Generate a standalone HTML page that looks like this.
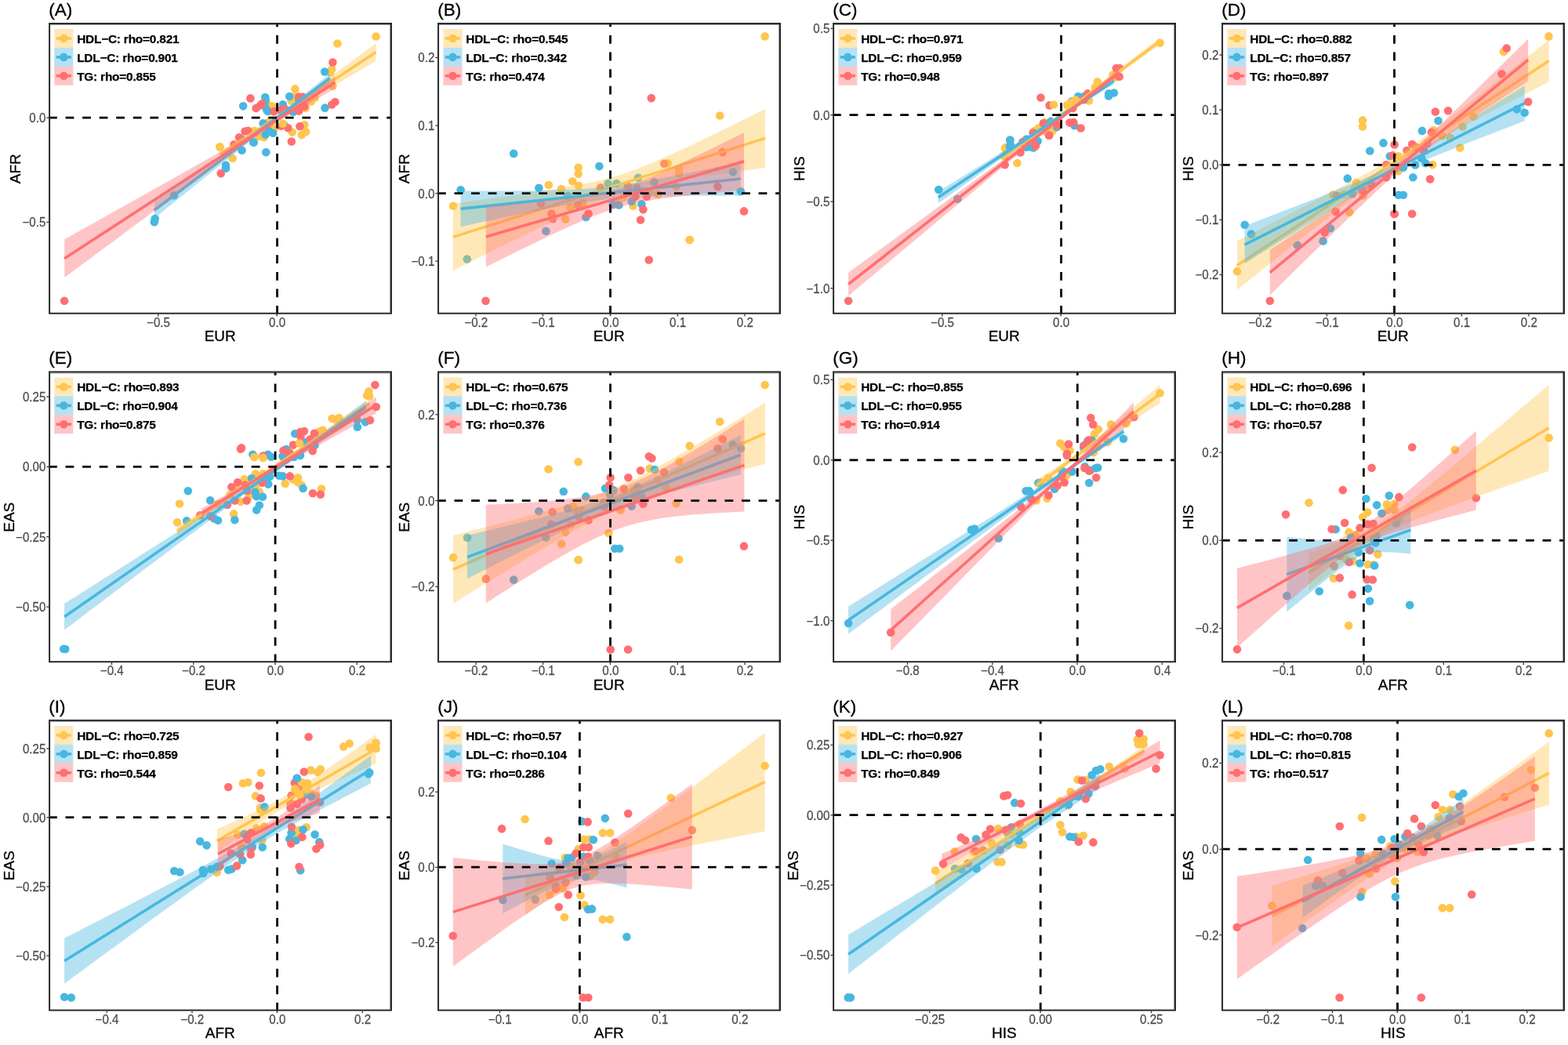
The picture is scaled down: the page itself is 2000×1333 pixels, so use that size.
<!DOCTYPE html>
<html lang="en"><head><meta charset="utf-8"><title>Cross-population effect size correlations</title>
<style>
html,body{margin:0;padding:0;background:#fff;}
body{width:2000px;height:1333px;overflow:hidden;}
svg{display:block;}
text{font-family:"Liberation Sans",sans-serif;}
.lg{font-size:15.4px;font-weight:bold;fill:#000;letter-spacing:-0.2px;stroke:#000;stroke-width:0.25px;}
.xt{font-size:15.15px;fill:#4d4d4d;stroke:#4d4d4d;stroke-width:0.25px;text-anchor:middle;}
.yt{font-size:15.15px;fill:#4d4d4d;stroke:#4d4d4d;stroke-width:0.25px;text-anchor:end;}
.at{font-size:19px;fill:#000;stroke:#000;stroke-width:0.3px;text-anchor:middle;}
.ti{font-size:22.6px;fill:#000;stroke:#000;stroke-width:0.3px;}
.fr{fill:none;stroke:#2b2b2b;stroke-width:2;}
.fs{stroke:#333;stroke-width:1;stroke-opacity:0.5;}
.tk{stroke:#333;stroke-width:1.3;}
.dl{stroke:#000;stroke-width:2.8;stroke-dasharray:10.78 10.78;}
</style></head><body>
<svg width="2000" height="1333" viewBox="0 0 2000 1333">
<rect width="2000" height="1333" fill="#fff"/>
<g class="panel" id="pA">
<clipPath id="clipA"><rect x="61.9" y="29" width="438.1" height="371.85"/></clipPath>
<g clip-path="url(#clipA)">
<circle cx="479.6" cy="46.44" r="5.3" fill="#FFC54E"/>
<circle cx="430.4" cy="55.44" r="5.3" fill="#FFC54E"/>
<circle cx="423.2" cy="88.2" r="5.3" fill="#FFC54E"/>
<circle cx="421.4" cy="92.4" r="5.3" fill="#FFC54E"/>
<circle cx="376.4" cy="113.4" r="5.3" fill="#FFC54E"/>
<circle cx="424.4" cy="109.8" r="5.3" fill="#FFC54E"/>
<circle cx="401.6" cy="124.8" r="5.3" fill="#FFC54E"/>
<circle cx="396.8" cy="129.6" r="5.3" fill="#FFC54E"/>
<circle cx="371.6" cy="128.4" r="5.3" fill="#FFC54E"/>
<circle cx="375.2" cy="123.6" r="5.3" fill="#FFC54E"/>
<circle cx="360.8" cy="135.6" r="5.3" fill="#FFC54E"/>
<circle cx="342.8" cy="134.4" r="5.3" fill="#FFC54E"/>
<circle cx="348.8" cy="139.2" r="5.3" fill="#FFC54E"/>
<circle cx="389.6" cy="138" r="5.3" fill="#FFC54E"/>
<circle cx="388.4" cy="159" r="5.3" fill="#FFC54E"/>
<circle cx="372.8" cy="168.6" r="5.3" fill="#FFC54E"/>
<circle cx="390.2" cy="168" r="5.3" fill="#FFC54E"/>
<circle cx="384.8" cy="172.2" r="5.3" fill="#FFC54E"/>
<circle cx="280.4" cy="187.2" r="5.3" fill="#FFC54E"/>
<circle cx="329.6" cy="174" r="5.3" fill="#FFC54E"/>
<circle cx="336.8" cy="175.2" r="5.3" fill="#FFC54E"/>
<circle cx="324.8" cy="166.8" r="5.3" fill="#FFC54E"/>
<circle cx="344" cy="160.8" r="5.3" fill="#FFC54E"/>
<circle cx="280.5" cy="187.8" r="5.3" fill="#FFC54E"/>
<circle cx="296.7" cy="202.05" r="5.3" fill="#FFC54E"/>
<circle cx="374" cy="125.5" r="5.3" fill="#FFC54E"/>
<circle cx="350" cy="163.75" r="5.3" fill="#FFC54E"/>
<circle cx="341.75" cy="156.25" r="5.3" fill="#FFC54E"/>
<circle cx="347" cy="135.25" r="5.3" fill="#FFC54E"/>
<circle cx="414.2" cy="91.44" r="5.3" fill="#47B7E0"/>
<circle cx="338.24" cy="123.96" r="5.3" fill="#47B7E0"/>
<circle cx="337.4" cy="133.2" r="5.3" fill="#47B7E0"/>
<circle cx="340.4" cy="140.4" r="5.3" fill="#47B7E0"/>
<circle cx="310.16" cy="135.36" r="5.3" fill="#47B7E0"/>
<circle cx="369.2" cy="123" r="5.3" fill="#47B7E0"/>
<circle cx="360.8" cy="133.2" r="5.3" fill="#47B7E0"/>
<circle cx="414.44" cy="137.64" r="5.3" fill="#47B7E0"/>
<circle cx="374" cy="142.8" r="5.3" fill="#47B7E0"/>
<circle cx="381.2" cy="127.2" r="5.3" fill="#47B7E0"/>
<circle cx="335.6" cy="157.2" r="5.3" fill="#47B7E0"/>
<circle cx="362" cy="159" r="5.3" fill="#47B7E0"/>
<circle cx="338.6" cy="171.6" r="5.3" fill="#47B7E0"/>
<circle cx="348.2" cy="169.8" r="5.3" fill="#47B7E0"/>
<circle cx="323.6" cy="181.8" r="5.3" fill="#47B7E0"/>
<circle cx="308" cy="177.6" r="5.3" fill="#47B7E0"/>
<circle cx="339.3" cy="194.25" r="5.3" fill="#47B7E0"/>
<circle cx="308.55" cy="191.7" r="5.3" fill="#47B7E0"/>
<circle cx="323.25" cy="181.5" r="5.3" fill="#47B7E0"/>
<circle cx="288" cy="210.75" r="5.3" fill="#47B7E0"/>
<circle cx="288" cy="214.8" r="5.3" fill="#47B7E0"/>
<circle cx="222" cy="249.3" r="5.3" fill="#47B7E0"/>
<circle cx="197.7" cy="279" r="5.3" fill="#47B7E0"/>
<circle cx="196.8" cy="283.2" r="5.3" fill="#47B7E0"/>
<circle cx="338.75" cy="127.38" r="5.3" fill="#47B7E0"/>
<circle cx="335.75" cy="134.13" r="5.3" fill="#47B7E0"/>
<circle cx="341.75" cy="142" r="5.3" fill="#47B7E0"/>
<circle cx="342.88" cy="167.13" r="5.3" fill="#47B7E0"/>
<circle cx="307.63" cy="177.63" r="5.3" fill="#47B7E0"/>
<circle cx="424.4" cy="79.44" r="5.3" fill="#FF6F71"/>
<circle cx="319.4" cy="125.4" r="5.3" fill="#FF6F71"/>
<circle cx="427.4" cy="129.96" r="5.3" fill="#FF6F71"/>
<circle cx="423.2" cy="133.44" r="5.3" fill="#FF6F71"/>
<circle cx="326.6" cy="138" r="5.3" fill="#FF6F71"/>
<circle cx="332" cy="134.4" r="5.3" fill="#FF6F71"/>
<circle cx="381.2" cy="123.6" r="5.3" fill="#FF6F71"/>
<circle cx="386" cy="123.6" r="5.3" fill="#FF6F71"/>
<circle cx="349.4" cy="142.2" r="5.3" fill="#FF6F71"/>
<circle cx="388.4" cy="135.6" r="5.3" fill="#FF6F71"/>
<circle cx="381.2" cy="141.6" r="5.3" fill="#FF6F71"/>
<circle cx="382.4" cy="161.16" r="5.3" fill="#FF6F71"/>
<circle cx="367.4" cy="163.2" r="5.3" fill="#FF6F71"/>
<circle cx="358.4" cy="160.8" r="5.3" fill="#FF6F71"/>
<circle cx="371.84" cy="180.6" r="5.3" fill="#FF6F71"/>
<circle cx="316.4" cy="166.8" r="5.3" fill="#FF6F71"/>
<circle cx="305" cy="175.2" r="5.3" fill="#FF6F71"/>
<circle cx="298.4" cy="184.2" r="5.3" fill="#FF6F71"/>
<circle cx="281.7" cy="221.25" r="5.3" fill="#FF6F71"/>
<circle cx="82.1" cy="383.8" r="5.3" fill="#FF6F71"/>
<circle cx="357.5" cy="140.5" r="5.3" fill="#FF6F71"/>
<circle cx="363.5" cy="139" r="5.3" fill="#FF6F71"/>
<circle cx="312.5" cy="167.5" r="5.3" fill="#FF6F71"/>
<circle cx="334.25" cy="132.25" r="5.3" fill="#FF6F71"/>
<circle cx="360.8" cy="157.8" r="5.3" fill="#FFC54E"/>
<polygon points="281,192.5 289.27,187.53 297.55,182.52 305.82,177.46 314.1,172.33 322.38,167.1 330.65,161.76 338.93,156.3 347.2,150.7 355.48,145 363.75,139.21 372.03,133.35 380.3,127.44 388.57,121.5 396.85,115.52 405.12,109.53 413.4,103.53 421.68,97.51 429.95,91.48 438.23,85.45 446.5,79.4 454.77,73.36 463.05,67.31 471.33,61.26 479.6,55.2 479.6,78 471.33,82.85 463.05,87.71 454.77,92.57 446.5,97.43 438.23,102.3 429.95,107.17 421.68,112.05 413.4,116.94 405.12,121.84 396.85,126.76 388.57,131.7 380.3,136.66 372.03,141.66 363.75,146.71 355.48,151.82 347.2,157.03 338.93,162.34 330.65,167.79 322.38,173.35 314.1,179.04 305.82,184.81 297.55,190.66 289.27,196.56 281,202.5" fill="#FFC54E" fill-opacity="0.4"/>
<line x1="281" y1="197.5" x2="479.6" y2="66.6" stroke="#FFC54E" stroke-width="3.6"/>
<polygon points="196.8,258.1 206.13,251.61 215.47,245.13 224.8,238.63 234.13,232.13 243.47,225.62 252.8,219.1 262.13,212.57 271.47,206.02 280.8,199.46 290.13,192.87 299.47,186.25 308.8,179.59 318.13,172.88 327.47,166.11 336.8,159.26 346.13,152.32 355.47,145.29 364.8,138.17 374.13,130.95 383.47,123.66 392.8,116.31 402.13,108.91 411.47,101.47 420.8,94 420.8,105.2 411.47,111.79 402.13,118.41 392.8,125.06 383.47,131.77 374.13,138.54 364.8,145.38 355.47,152.32 346.13,159.34 336.8,166.47 327.47,173.68 318.13,180.96 308.8,188.31 299.47,195.71 290.13,203.15 280.8,210.62 271.47,218.11 262.13,225.62 252.8,233.15 243.47,240.69 234.13,248.24 224.8,255.8 215.47,263.36 206.13,270.93 196.8,278.5" fill="#47B7E0" fill-opacity="0.4"/>
<line x1="196.8" y1="268.3" x2="420.8" y2="99.6" stroke="#47B7E0" stroke-width="3.6"/>
<polygon points="82.2,305.3 96.58,297.24 110.97,289.19 125.35,281.13 139.73,273.07 154.12,265.01 168.5,256.94 182.88,248.88 197.27,240.8 211.65,232.73 226.03,224.64 240.42,216.54 254.8,208.43 269.18,200.3 283.57,192.13 297.95,183.9 312.33,175.57 326.72,167.03 341.1,158.13 355.48,148.7 369.87,138.76 384.25,128.51 398.63,118.08 413.02,107.57 427.4,97 427.4,113 413.02,121.16 398.63,129.37 384.25,137.67 369.87,146.14 355.48,154.92 341.1,164.22 326.72,174.04 312.33,184.23 297.95,194.63 283.57,205.12 269.18,215.68 254.8,226.27 240.42,236.88 226.03,247.51 211.65,258.15 197.27,268.8 182.88,279.45 168.5,290.11 154.12,300.77 139.73,311.43 125.35,322.09 110.97,332.76 96.58,343.43 82.2,354.1" fill="#FF6F71" fill-opacity="0.4"/>
<line x1="82.2" y1="329.7" x2="427.4" y2="105" stroke="#FF6F71" stroke-width="3.6"/>
<line x1="62" y1="150.2" x2="499" y2="150.2" class="dl"/>
<line x1="353.55" y1="400.8" x2="353.55" y2="30" class="dl"/>
</g>
<rect x="69.3" y="37" width="24.1" height="23.95" fill="#FFC54E" fill-opacity="0.4"/>
<line x1="71.7" y1="49" x2="91" y2="49" stroke="#FFC54E" stroke-width="3.6"/>
<circle cx="81.35" cy="49" r="5.3" fill="#FFC54E"/>
<text x="98.15" y="54.85" class="lg">HDL−C: rho=0.821</text>
<rect x="69.3" y="60.9" width="24.1" height="23.95" fill="#47B7E0" fill-opacity="0.4"/>
<line x1="71.7" y1="72.9" x2="91" y2="72.9" stroke="#47B7E0" stroke-width="3.6"/>
<circle cx="81.35" cy="72.9" r="5.3" fill="#47B7E0"/>
<text x="98.15" y="78.75" class="lg">LDL−C: rho=0.901</text>
<rect x="69.3" y="84.8" width="24.1" height="23.95" fill="#FF6F71" fill-opacity="0.4"/>
<line x1="71.7" y1="96.8" x2="91" y2="96.8" stroke="#FF6F71" stroke-width="3.6"/>
<circle cx="81.35" cy="96.8" r="5.3" fill="#FF6F71"/>
<text x="98.15" y="102.65" class="lg">TG: rho=0.855</text>
<rect x="63.1" y="30" width="435.9" height="369.75" class="fr"/>
<line x1="64.1" y1="31.5" x2="498" y2="31.5" class="fs"/>
<line x1="497.5" y1="31" x2="497.5" y2="398.75" class="fs"/>
<line x1="201.75" y1="400.75" x2="201.75" y2="403.45" class="tk"/>
<text transform="translate(202.05,416.65) scale(1,1.03)" class="xt">−0.5</text>
<line x1="353.25" y1="400.75" x2="353.25" y2="403.45" class="tk"/>
<text transform="translate(353.55,416.65) scale(1,1.03)" class="xt">0.0</text>
<line x1="62.1" y1="150.2" x2="59.4" y2="150.2" class="tk"/>
<text transform="translate(58.4,156.1) scale(1,1.03)" class="yt">0.0</text>
<line x1="62.1" y1="283.4" x2="59.4" y2="283.4" class="tk"/>
<text transform="translate(58.4,289.3) scale(1,1.03)" class="yt">−0.5</text>
<text x="280.75" y="435.2" class="at">EUR</text>
<text transform="translate(26,215.28) rotate(-90)" class="at">AFR</text>
<text x="62.2" y="19.6" class="ti">(A)</text>
</g>
<g class="panel" id="pB">
<clipPath id="clipB"><rect x="557.85" y="29" width="438.15" height="371.85"/></clipPath>
<g clip-path="url(#clipB)">
<circle cx="578.04" cy="262.76" r="5.3" fill="#FFC54E"/>
<circle cx="699.84" cy="236" r="5.3" fill="#FFC54E"/>
<circle cx="716.04" cy="241.04" r="5.3" fill="#FFC54E"/>
<circle cx="730.2" cy="231.2" r="5.3" fill="#FFC54E"/>
<circle cx="737.64" cy="213.8" r="5.3" fill="#FFC54E"/>
<circle cx="737.64" cy="221.84" r="5.3" fill="#FFC54E"/>
<circle cx="738" cy="236.84" r="5.3" fill="#FFC54E"/>
<circle cx="743.16" cy="258.8" r="5.3" fill="#FFC54E"/>
<circle cx="727.44" cy="264.8" r="5.3" fill="#FFC54E"/>
<circle cx="721.2" cy="279.44" r="5.3" fill="#FFC54E"/>
<circle cx="851.8" cy="208.2" r="5.3" fill="#FFC54E"/>
<circle cx="866.2" cy="214.8" r="5.3" fill="#FFC54E"/>
<circle cx="866.2" cy="221.4" r="5.3" fill="#FFC54E"/>
<circle cx="862.6" cy="237.6" r="5.3" fill="#FFC54E"/>
<circle cx="839.2" cy="247.8" r="5.3" fill="#FFC54E"/>
<circle cx="807.4" cy="262.8" r="5.3" fill="#FFC54E"/>
<circle cx="879.76" cy="306" r="5.3" fill="#FFC54E"/>
<circle cx="829" cy="244.8" r="5.3" fill="#FFC54E"/>
<circle cx="785.2" cy="256.8" r="5.3" fill="#FFC54E"/>
<circle cx="794.8" cy="252" r="5.3" fill="#FFC54E"/>
<circle cx="975.63" cy="46.4" r="5.3" fill="#FFC54E"/>
<circle cx="918.22" cy="147.53" r="5.3" fill="#FFC54E"/>
<circle cx="879.51" cy="306.07" r="5.3" fill="#FFC54E"/>
<circle cx="587.64" cy="242.36" r="5.3" fill="#47B7E0"/>
<circle cx="655.2" cy="195.92" r="5.3" fill="#47B7E0"/>
<circle cx="687.36" cy="239.84" r="5.3" fill="#47B7E0"/>
<circle cx="764.4" cy="212.12" r="5.3" fill="#47B7E0"/>
<circle cx="696.36" cy="294.8" r="5.3" fill="#47B7E0"/>
<circle cx="747.36" cy="277.04" r="5.3" fill="#47B7E0"/>
<circle cx="724.2" cy="249.8" r="5.3" fill="#47B7E0"/>
<circle cx="814" cy="226.8" r="5.3" fill="#47B7E0"/>
<circle cx="775.6" cy="234" r="5.3" fill="#47B7E0"/>
<circle cx="786.4" cy="234" r="5.3" fill="#47B7E0"/>
<circle cx="834.4" cy="232.2" r="5.3" fill="#47B7E0"/>
<circle cx="812.2" cy="239.4" r="5.3" fill="#47B7E0"/>
<circle cx="934.96" cy="219.36" r="5.3" fill="#47B7E0"/>
<circle cx="944.8" cy="244.2" r="5.3" fill="#47B7E0"/>
<circle cx="818.44" cy="260.4" r="5.3" fill="#47B7E0"/>
<circle cx="805.6" cy="256.8" r="5.3" fill="#47B7E0"/>
<circle cx="789.4" cy="261.6" r="5.3" fill="#47B7E0"/>
<circle cx="781.6" cy="261" r="5.3" fill="#47B7E0"/>
<circle cx="595.79" cy="330.44" r="5.3" fill="#47B7E0"/>
<circle cx="690" cy="259.4" r="5.3" fill="#FF6F71"/>
<circle cx="703.44" cy="272.6" r="5.3" fill="#FF6F71"/>
<circle cx="705" cy="279.2" r="5.3" fill="#FF6F71"/>
<circle cx="750.6" cy="272.6" r="5.3" fill="#FF6F71"/>
<circle cx="737.4" cy="261.8" r="5.3" fill="#FF6F71"/>
<circle cx="847.24" cy="208.8" r="5.3" fill="#FF6F71"/>
<circle cx="921.64" cy="194.16" r="5.3" fill="#FF6F71"/>
<circle cx="915.4" cy="237.96" r="5.3" fill="#FF6F71"/>
<circle cx="824.8" cy="250.8" r="5.3" fill="#FF6F71"/>
<circle cx="810.4" cy="250.8" r="5.3" fill="#FF6F71"/>
<circle cx="820.36" cy="267.36" r="5.3" fill="#FF6F71"/>
<circle cx="817" cy="280.56" r="5.3" fill="#FF6F71"/>
<circle cx="949" cy="269.4" r="5.3" fill="#FF6F71"/>
<circle cx="800.8" cy="237.6" r="5.3" fill="#FF6F71"/>
<circle cx="766" cy="239.4" r="5.3" fill="#FF6F71"/>
<circle cx="830.77" cy="125.17" r="5.3" fill="#FF6F71"/>
<circle cx="827.77" cy="331.44" r="5.3" fill="#FF6F71"/>
<circle cx="619.49" cy="383.85" r="5.3" fill="#FF6F71"/>
<polygon points="577.8,259.4 594.39,257.21 610.98,255 627.57,252.76 644.17,250.49 660.76,248.16 677.35,245.76 693.94,243.27 710.53,240.65 727.12,237.83 743.72,234.73 760.31,231.2 776.9,227.06 793.49,222.15 810.08,216.39 826.67,209.9 843.27,202.83 859.86,195.37 876.45,187.64 893.04,179.73 909.63,171.7 926.22,163.58 942.82,155.4 959.41,147.17 976,138.9 976,213.9 959.41,216.13 942.82,218.4 926.22,220.72 909.63,223.1 893.04,225.57 876.45,228.16 859.86,230.93 843.27,233.97 826.67,237.4 810.08,241.41 793.49,246.15 776.9,251.74 760.31,258.1 743.72,265.07 727.12,272.47 710.53,280.15 693.94,288.03 677.35,296.04 660.76,304.14 644.17,312.31 627.57,320.54 610.98,328.8 594.39,337.09 577.8,345.4" fill="#FFC54E" fill-opacity="0.4"/>
<line x1="577.8" y1="302.4" x2="976" y2="176.4" stroke="#FFC54E" stroke-width="3.6"/>
<polygon points="587.6,243.6 602.48,243.61 617.37,243.59 632.25,243.56 647.13,243.48 662.02,243.37 676.9,243.2 691.78,242.95 706.67,242.6 721.55,242.11 736.43,241.41 751.32,240.46 766.2,239.17 781.08,237.53 795.97,235.52 810.85,233.2 825.73,230.64 840.62,227.9 855.5,225.02 870.38,222.04 885.27,219 900.15,215.9 915.03,212.76 929.92,209.59 944.8,206.4 944.8,249.6 929.92,249.61 915.03,249.64 900.15,249.7 885.27,249.8 870.38,249.96 855.5,250.18 840.62,250.5 825.73,250.96 810.85,251.6 795.97,252.48 781.08,253.67 766.2,255.23 751.32,257.14 736.43,259.39 721.55,261.89 706.67,264.6 691.78,267.45 676.9,270.4 662.02,273.43 647.13,276.52 632.25,279.64 617.37,282.81 602.48,285.99 587.6,289.2" fill="#47B7E0" fill-opacity="0.4"/>
<line x1="587.6" y1="266.4" x2="944.8" y2="228" stroke="#47B7E0" stroke-width="3.6"/>
<polygon points="619.8,263.5 633.52,262.3 647.23,261.07 660.95,259.8 674.67,258.49 688.38,257.11 702.1,255.65 715.82,254.08 729.53,252.34 743.25,250.37 756.97,248.06 770.68,245.27 784.4,241.86 798.12,237.73 811.83,232.91 825.55,227.51 839.27,221.68 852.98,215.55 866.7,209.21 880.42,202.73 894.13,196.14 907.85,189.48 921.57,182.76 935.28,176 949,169.2 949,242.4 935.28,243.62 921.57,244.88 907.85,246.17 894.13,247.53 880.42,248.95 866.7,250.49 852.98,252.16 839.27,254.05 825.55,256.24 811.83,258.86 798.12,262.05 784.4,265.94 770.68,270.55 756.97,275.78 743.25,281.48 729.53,287.52 715.82,293.8 702.1,300.25 688.38,306.81 674.67,313.45 660.95,320.15 647.23,326.9 633.52,333.69 619.8,340.5" fill="#FF6F71" fill-opacity="0.4"/>
<line x1="619.8" y1="302" x2="949" y2="205.8" stroke="#FF6F71" stroke-width="3.6"/>
<line x1="557.95" y1="246.7" x2="995" y2="246.7" class="dl"/>
<line x1="778.5" y1="400.8" x2="778.5" y2="30" class="dl"/>
</g>
<rect x="565.4" y="37" width="24.1" height="23.95" fill="#FFC54E" fill-opacity="0.4"/>
<line x1="567.8" y1="49" x2="587.1" y2="49" stroke="#FFC54E" stroke-width="3.6"/>
<circle cx="577.45" cy="49" r="5.3" fill="#FFC54E"/>
<text x="594.25" y="54.85" class="lg">HDL−C: rho=0.545</text>
<rect x="565.4" y="60.9" width="24.1" height="23.95" fill="#47B7E0" fill-opacity="0.4"/>
<line x1="567.8" y1="72.9" x2="587.1" y2="72.9" stroke="#47B7E0" stroke-width="3.6"/>
<circle cx="577.45" cy="72.9" r="5.3" fill="#47B7E0"/>
<text x="594.25" y="78.75" class="lg">LDL−C: rho=0.342</text>
<rect x="565.4" y="84.8" width="24.1" height="23.95" fill="#FF6F71" fill-opacity="0.4"/>
<line x1="567.8" y1="96.8" x2="587.1" y2="96.8" stroke="#FF6F71" stroke-width="3.6"/>
<circle cx="577.45" cy="96.8" r="5.3" fill="#FF6F71"/>
<text x="594.25" y="102.65" class="lg">TG: rho=0.474</text>
<rect x="559.05" y="30" width="435.95" height="369.75" class="fr"/>
<line x1="560.05" y1="31.5" x2="994" y2="31.5" class="fs"/>
<line x1="993.5" y1="31" x2="993.5" y2="398.75" class="fs"/>
<line x1="607" y1="400.75" x2="607" y2="403.45" class="tk"/>
<text transform="translate(607.3,416.65) scale(1,1.03)" class="xt">−0.2</text>
<line x1="692.5" y1="400.75" x2="692.5" y2="403.45" class="tk"/>
<text transform="translate(692.8,416.65) scale(1,1.03)" class="xt">−0.1</text>
<line x1="778.5" y1="400.75" x2="778.5" y2="403.45" class="tk"/>
<text transform="translate(778.8,416.65) scale(1,1.03)" class="xt">0.0</text>
<line x1="864.25" y1="400.75" x2="864.25" y2="403.45" class="tk"/>
<text transform="translate(864.55,416.65) scale(1,1.03)" class="xt">0.1</text>
<line x1="950" y1="400.75" x2="950" y2="403.45" class="tk"/>
<text transform="translate(950.3,416.65) scale(1,1.03)" class="xt">0.2</text>
<line x1="558.05" y1="73.4" x2="555.35" y2="73.4" class="tk"/>
<text transform="translate(554.35,79.3) scale(1,1.03)" class="yt">0.2</text>
<line x1="558.05" y1="160.2" x2="555.35" y2="160.2" class="tk"/>
<text transform="translate(554.35,166.1) scale(1,1.03)" class="yt">0.1</text>
<line x1="558.05" y1="246.7" x2="555.35" y2="246.7" class="tk"/>
<text transform="translate(554.35,252.6) scale(1,1.03)" class="yt">0.0</text>
<line x1="558.05" y1="333.1" x2="555.35" y2="333.1" class="tk"/>
<text transform="translate(554.35,339) scale(1,1.03)" class="yt">−0.1</text>
<text x="776.73" y="435.2" class="at">EUR</text>
<text transform="translate(521.7,215.28) rotate(-90)" class="at">AFR</text>
<text x="558.15" y="19.6" class="ti">(B)</text>
</g>
<g class="panel" id="pC">
<clipPath id="clipC"><rect x="1061.9" y="29" width="438.1" height="371.85"/></clipPath>
<g clip-path="url(#clipC)">
<circle cx="1479.6" cy="54.84" r="5.3" fill="#FFC54E"/>
<circle cx="1399.8" cy="104.4" r="5.3" fill="#FFC54E"/>
<circle cx="1396.8" cy="111.6" r="5.3" fill="#FFC54E"/>
<circle cx="1419.6" cy="95.4" r="5.3" fill="#FFC54E"/>
<circle cx="1423.2" cy="98.4" r="5.3" fill="#FFC54E"/>
<circle cx="1389" cy="128.4" r="5.3" fill="#FFC54E"/>
<circle cx="1362" cy="134.4" r="5.3" fill="#FFC54E"/>
<circle cx="1371.6" cy="128.4" r="5.3" fill="#FFC54E"/>
<circle cx="1368.6" cy="138" r="5.3" fill="#FFC54E"/>
<circle cx="1380" cy="126" r="5.3" fill="#FFC54E"/>
<circle cx="1332.6" cy="156" r="5.3" fill="#FFC54E"/>
<circle cx="1324.8" cy="163.2" r="5.3" fill="#FFC54E"/>
<circle cx="1320" cy="166.8" r="5.3" fill="#FFC54E"/>
<circle cx="1334.4" cy="168" r="5.3" fill="#FFC54E"/>
<circle cx="1282.2" cy="188.4" r="5.3" fill="#FFC54E"/>
<circle cx="1342.8" cy="166.8" r="5.3" fill="#FFC54E"/>
<circle cx="1282" cy="189.25" r="5.3" fill="#FFC54E"/>
<circle cx="1280.5" cy="199" r="5.3" fill="#FFC54E"/>
<circle cx="1297.45" cy="208" r="5.3" fill="#FFC54E"/>
<circle cx="1322.5" cy="166" r="5.3" fill="#FFC54E"/>
<circle cx="1414.2" cy="119.4" r="5.3" fill="#47B7E0"/>
<circle cx="1420.8" cy="118.44" r="5.3" fill="#47B7E0"/>
<circle cx="1375.2" cy="123" r="5.3" fill="#47B7E0"/>
<circle cx="1381.2" cy="123.6" r="5.3" fill="#47B7E0"/>
<circle cx="1366.8" cy="129.6" r="5.3" fill="#47B7E0"/>
<circle cx="1340.4" cy="154.8" r="5.3" fill="#47B7E0"/>
<circle cx="1336.8" cy="158.4" r="5.3" fill="#47B7E0"/>
<circle cx="1348.2" cy="162" r="5.3" fill="#47B7E0"/>
<circle cx="1370.4" cy="160.2" r="5.3" fill="#47B7E0"/>
<circle cx="1288.44" cy="178.44" r="5.3" fill="#47B7E0"/>
<circle cx="1309.2" cy="177.6" r="5.3" fill="#47B7E0"/>
<circle cx="1323.6" cy="180" r="5.3" fill="#47B7E0"/>
<circle cx="1288.8" cy="184.8" r="5.3" fill="#47B7E0"/>
<circle cx="1312.8" cy="187.2" r="5.3" fill="#47B7E0"/>
<circle cx="1197.25" cy="242.05" r="5.3" fill="#47B7E0"/>
<circle cx="1221.25" cy="253.75" r="5.3" fill="#47B7E0"/>
<circle cx="1288.3" cy="179.05" r="5.3" fill="#47B7E0"/>
<circle cx="1288" cy="187" r="5.3" fill="#47B7E0"/>
<circle cx="1309.75" cy="178" r="5.3" fill="#47B7E0"/>
<circle cx="1309" cy="187.75" r="5.3" fill="#47B7E0"/>
<circle cx="1318" cy="188.5" r="5.3" fill="#47B7E0"/>
<circle cx="1323.25" cy="180.25" r="5.3" fill="#47B7E0"/>
<circle cx="1414.13" cy="122.38" r="5.3" fill="#47B7E0"/>
<circle cx="1423.8" cy="87" r="5.3" fill="#FF6F71"/>
<circle cx="1428" cy="87" r="5.3" fill="#FF6F71"/>
<circle cx="1427.76" cy="97.8" r="5.3" fill="#FF6F71"/>
<circle cx="1327.44" cy="124.44" r="5.3" fill="#FF6F71"/>
<circle cx="1338.6" cy="134.4" r="5.3" fill="#FF6F71"/>
<circle cx="1387.2" cy="119.4" r="5.3" fill="#FF6F71"/>
<circle cx="1382.4" cy="127.2" r="5.3" fill="#FF6F71"/>
<circle cx="1368" cy="138" r="5.3" fill="#FF6F71"/>
<circle cx="1364.4" cy="156.6" r="5.3" fill="#FF6F71"/>
<circle cx="1369.2" cy="156" r="5.3" fill="#FF6F71"/>
<circle cx="1378.56" cy="163.56" r="5.3" fill="#FF6F71"/>
<circle cx="1348.8" cy="159.6" r="5.3" fill="#FF6F71"/>
<circle cx="1330.8" cy="157.2" r="5.3" fill="#FF6F71"/>
<circle cx="1338" cy="172.8" r="5.3" fill="#FF6F71"/>
<circle cx="1320" cy="184.8" r="5.3" fill="#FF6F71"/>
<circle cx="1317.6" cy="169.2" r="5.3" fill="#FF6F71"/>
<circle cx="1304.4" cy="182.4" r="5.3" fill="#FF6F71"/>
<circle cx="1281.7" cy="210.25" r="5.3" fill="#FF6F71"/>
<circle cx="1301.5" cy="194.5" r="5.3" fill="#FF6F71"/>
<circle cx="1321" cy="186.25" r="5.3" fill="#FF6F71"/>
<circle cx="1338.25" cy="172.75" r="5.3" fill="#FF6F71"/>
<circle cx="1304.5" cy="181" r="5.3" fill="#FF6F71"/>
<circle cx="1082.1" cy="383.8" r="5.3" fill="#FF6F71"/>
<circle cx="1344" cy="133.44" r="5.3" fill="#FFC54E"/>
<circle cx="1361.25" cy="134" r="5.3" fill="#FFC54E"/>
<circle cx="1365.75" cy="131" r="5.3" fill="#FFC54E"/>
<circle cx="1371.75" cy="127.25" r="5.3" fill="#FFC54E"/>
<polygon points="1281,196.3 1289.28,190.41 1297.55,184.51 1305.83,178.6 1314.1,172.68 1322.38,166.75 1330.65,160.79 1338.92,154.82 1347.2,148.81 1355.47,142.77 1363.75,136.69 1372.02,130.56 1380.3,124.38 1388.58,118.15 1396.85,111.89 1405.12,105.58 1413.4,99.25 1421.67,92.89 1429.95,86.51 1438.22,80.11 1446.5,73.71 1454.77,67.29 1463.05,60.87 1471.32,54.44 1479.6,48 1479.6,57 1471.32,62.88 1463.05,68.77 1454.77,74.66 1446.5,80.56 1438.22,86.47 1429.95,92.39 1421.67,98.33 1413.4,104.29 1405.12,110.27 1396.85,116.28 1388.58,122.33 1380.3,128.42 1372.02,134.56 1363.75,140.75 1355.47,146.98 1347.2,153.25 1338.92,159.57 1330.65,165.91 1322.38,172.27 1314.1,178.65 1305.83,185.05 1297.55,191.46 1289.28,197.87 1281,204.3" fill="#FFC54E" fill-opacity="0.4"/>
<line x1="1281" y1="200.3" x2="1479.6" y2="52.5" stroke="#FFC54E" stroke-width="3.6"/>
<polygon points="1196.8,244.3 1206.13,238.54 1215.47,232.77 1224.8,227 1234.13,221.23 1243.47,215.46 1252.8,209.67 1262.13,203.89 1271.47,198.09 1280.8,192.29 1290.13,186.46 1299.47,180.62 1308.8,174.75 1318.13,168.85 1327.47,162.88 1336.8,156.85 1346.13,150.73 1355.47,144.51 1364.8,138.2 1374.13,131.81 1383.47,125.35 1392.8,118.85 1402.13,112.32 1411.47,105.77 1420.8,99.2 1420.8,107.2 1411.47,113.01 1402.13,118.84 1392.8,124.7 1383.47,130.58 1374.13,136.51 1364.8,142.5 1355.47,148.57 1346.13,154.74 1336.8,161 1327.47,167.35 1318.13,173.77 1308.8,180.25 1299.47,186.76 1290.13,193.3 1280.8,199.86 1271.47,206.44 1262.13,213.03 1252.8,219.63 1243.47,226.23 1234.13,232.84 1224.8,239.45 1215.47,246.06 1206.13,252.68 1196.8,259.3" fill="#47B7E0" fill-opacity="0.4"/>
<line x1="1196.8" y1="251.8" x2="1420.8" y2="103.2" stroke="#47B7E0" stroke-width="3.6"/>
<polygon points="1082.1,347.7 1096.49,337.22 1110.88,326.74 1125.26,316.26 1139.65,305.78 1154.04,295.29 1168.42,284.8 1182.81,274.31 1197.2,263.82 1211.59,253.31 1225.97,242.8 1240.36,232.28 1254.75,221.74 1269.14,211.19 1283.53,200.6 1297.91,189.96 1312.3,179.25 1326.69,168.41 1341.08,157.39 1355.46,146.14 1369.85,134.65 1384.24,122.98 1398.62,111.19 1413.01,99.32 1427.4,87.4 1427.4,97.4 1413.01,107.99 1398.62,118.63 1384.24,129.34 1369.85,140.18 1355.46,151.2 1341.08,162.46 1326.69,173.95 1312.3,185.62 1297.91,197.41 1283.53,209.29 1269.14,221.2 1254.75,233.16 1240.36,245.13 1225.97,257.11 1211.59,269.11 1197.2,281.12 1182.81,293.13 1168.42,305.15 1154.04,317.16 1139.65,329.19 1125.26,341.21 1110.88,353.24 1096.49,365.27 1082.1,377.3" fill="#FF6F71" fill-opacity="0.4"/>
<line x1="1082.1" y1="362.5" x2="1427.4" y2="92.4" stroke="#FF6F71" stroke-width="3.6"/>
<line x1="1062" y1="146.6" x2="1499" y2="146.6" class="dl"/>
<line x1="1353.55" y1="400.8" x2="1353.55" y2="30" class="dl"/>
</g>
<rect x="1069.3" y="37" width="24.1" height="23.95" fill="#FFC54E" fill-opacity="0.4"/>
<line x1="1071.7" y1="49" x2="1091" y2="49" stroke="#FFC54E" stroke-width="3.6"/>
<circle cx="1081.35" cy="49" r="5.3" fill="#FFC54E"/>
<text x="1098.15" y="54.85" class="lg">HDL−C: rho=0.971</text>
<rect x="1069.3" y="60.9" width="24.1" height="23.95" fill="#47B7E0" fill-opacity="0.4"/>
<line x1="1071.7" y1="72.9" x2="1091" y2="72.9" stroke="#47B7E0" stroke-width="3.6"/>
<circle cx="1081.35" cy="72.9" r="5.3" fill="#47B7E0"/>
<text x="1098.15" y="78.75" class="lg">LDL−C: rho=0.959</text>
<rect x="1069.3" y="84.8" width="24.1" height="23.95" fill="#FF6F71" fill-opacity="0.4"/>
<line x1="1071.7" y1="96.8" x2="1091" y2="96.8" stroke="#FF6F71" stroke-width="3.6"/>
<circle cx="1081.35" cy="96.8" r="5.3" fill="#FF6F71"/>
<text x="1098.15" y="102.65" class="lg">TG: rho=0.948</text>
<rect x="1063.1" y="30" width="435.9" height="369.75" class="fr"/>
<line x1="1064.1" y1="31.5" x2="1498" y2="31.5" class="fs"/>
<line x1="1497.5" y1="31" x2="1497.5" y2="398.75" class="fs"/>
<line x1="1201.75" y1="400.75" x2="1201.75" y2="403.45" class="tk"/>
<text transform="translate(1202.05,416.65) scale(1,1.03)" class="xt">−0.5</text>
<line x1="1353.25" y1="400.75" x2="1353.25" y2="403.45" class="tk"/>
<text transform="translate(1353.55,416.65) scale(1,1.03)" class="xt">0.0</text>
<line x1="1062.1" y1="36.4" x2="1059.4" y2="36.4" class="tk"/>
<text transform="translate(1058.4,42.3) scale(1,1.03)" class="yt">0.5</text>
<line x1="1062.1" y1="146.7" x2="1059.4" y2="146.7" class="tk"/>
<text transform="translate(1058.4,152.6) scale(1,1.03)" class="yt">0.0</text>
<line x1="1062.1" y1="257.2" x2="1059.4" y2="257.2" class="tk"/>
<text transform="translate(1058.4,263.1) scale(1,1.03)" class="yt">−0.5</text>
<line x1="1062.1" y1="367.7" x2="1059.4" y2="367.7" class="tk"/>
<text transform="translate(1058.4,373.6) scale(1,1.03)" class="yt">−1.0</text>
<text x="1280.75" y="435.2" class="at">EUR</text>
<text transform="translate(1026,215.28) rotate(-90)" class="at">HIS</text>
<text x="1062.2" y="19.6" class="ti">(C)</text>
</g>
<g class="panel" id="pD">
<clipPath id="clipD"><rect x="1557.85" y="29" width="438.15" height="371.85"/></clipPath>
<g clip-path="url(#clipD)">
<circle cx="1578.04" cy="346.16" r="5.3" fill="#FFC54E"/>
<circle cx="1721.2" cy="270.8" r="5.3" fill="#FFC54E"/>
<circle cx="1738.6" cy="249.8" r="5.3" fill="#FFC54E"/>
<circle cx="1700.2" cy="248.6" r="5.3" fill="#FFC54E"/>
<circle cx="1714.6" cy="248" r="5.3" fill="#FFC54E"/>
<circle cx="1727.8" cy="240.2" r="5.3" fill="#FFC54E"/>
<circle cx="1730.2" cy="233" r="5.3" fill="#FFC54E"/>
<circle cx="1742.2" cy="242" r="5.3" fill="#FFC54E"/>
<circle cx="1737.97" cy="153.4" r="5.3" fill="#FFC54E"/>
<circle cx="1737.97" cy="161.5" r="5.3" fill="#FFC54E"/>
<circle cx="1828.6" cy="166" r="5.3" fill="#FFC54E"/>
<circle cx="1862.35" cy="188.5" r="5.3" fill="#FFC54E"/>
<circle cx="1827.25" cy="210.1" r="5.3" fill="#FFC54E"/>
<circle cx="1839.4" cy="173.2" r="5.3" fill="#FFC54E"/>
<circle cx="1849.75" cy="175.9" r="5.3" fill="#FFC54E"/>
<circle cx="1865.5" cy="161.5" r="5.3" fill="#FFC54E"/>
<circle cx="1783.6" cy="199.3" r="5.3" fill="#FFC54E"/>
<circle cx="1783.6" cy="218.2" r="5.3" fill="#FFC54E"/>
<circle cx="1975.43" cy="46.38" r="5.3" fill="#FFC54E"/>
<circle cx="1917.92" cy="66" r="5.3" fill="#FFC54E"/>
<circle cx="1879.4" cy="148.8" r="5.3" fill="#FFC54E"/>
<circle cx="1587.64" cy="286.76" r="5.3" fill="#47B7E0"/>
<circle cx="1596.04" cy="298.64" r="5.3" fill="#47B7E0"/>
<circle cx="1654.84" cy="312.8" r="5.3" fill="#47B7E0"/>
<circle cx="1687.6" cy="307.4" r="5.3" fill="#47B7E0"/>
<circle cx="1696.96" cy="291.2" r="5.3" fill="#47B7E0"/>
<circle cx="1724.8" cy="247.4" r="5.3" fill="#47B7E0"/>
<circle cx="1834.45" cy="154.12" r="5.3" fill="#47B7E0"/>
<circle cx="1813.93" cy="166.9" r="5.3" fill="#47B7E0"/>
<circle cx="1764.43" cy="182.38" r="5.3" fill="#47B7E0"/>
<circle cx="1747.33" cy="192.55" r="5.3" fill="#47B7E0"/>
<circle cx="1805.2" cy="210.55" r="5.3" fill="#47B7E0"/>
<circle cx="1818.25" cy="208.3" r="5.3" fill="#47B7E0"/>
<circle cx="1813.3" cy="202" r="5.3" fill="#47B7E0"/>
<circle cx="1802.32" cy="226.3" r="5.3" fill="#47B7E0"/>
<circle cx="1718.8" cy="227.65" r="5.3" fill="#47B7E0"/>
<circle cx="1772.8" cy="199.3" r="5.3" fill="#47B7E0"/>
<circle cx="1783.6" cy="248.8" r="5.3" fill="#47B7E0"/>
<circle cx="1789.9" cy="248.8" r="5.3" fill="#47B7E0"/>
<circle cx="1789.9" cy="213.7" r="5.3" fill="#47B7E0"/>
<circle cx="1934.75" cy="139.35" r="5.3" fill="#47B7E0"/>
<circle cx="1944.65" cy="143.85" r="5.3" fill="#47B7E0"/>
<circle cx="1619.8" cy="383.84" r="5.3" fill="#FF6F71"/>
<circle cx="1689.64" cy="296.6" r="5.3" fill="#FF6F71"/>
<circle cx="1703.44" cy="269.84" r="5.3" fill="#FF6F71"/>
<circle cx="1778.44" cy="272.84" r="5.3" fill="#FF6F71"/>
<circle cx="1705" cy="249.8" r="5.3" fill="#FF6F71"/>
<circle cx="1737.4" cy="242.6" r="5.3" fill="#FF6F71"/>
<circle cx="1749.4" cy="236" r="5.3" fill="#FF6F71"/>
<circle cx="1830.85" cy="142.6" r="5.3" fill="#FF6F71"/>
<circle cx="1847.05" cy="141.25" r="5.3" fill="#FF6F71"/>
<circle cx="1778.65" cy="184.45" r="5.3" fill="#FF6F71"/>
<circle cx="1801.15" cy="184" r="5.3" fill="#FF6F71"/>
<circle cx="1794.4" cy="192.1" r="5.3" fill="#FF6F71"/>
<circle cx="1776.4" cy="198.4" r="5.3" fill="#FF6F71"/>
<circle cx="1768.3" cy="210.1" r="5.3" fill="#FF6F71"/>
<circle cx="1824.1" cy="228.55" r="5.3" fill="#FF6F71"/>
<circle cx="1825.9" cy="168.7" r="5.3" fill="#FF6F71"/>
<circle cx="1806.1" cy="187.6" r="5.3" fill="#FF6F71"/>
<circle cx="1820.5" cy="183.1" r="5.3" fill="#FF6F71"/>
<circle cx="1768.3" cy="226.3" r="5.3" fill="#FF6F71"/>
<circle cx="1816" cy="192.1" r="5.3" fill="#FF6F71"/>
<circle cx="1921.7" cy="61.5" r="5.3" fill="#FF6F71"/>
<circle cx="1915.4" cy="94.35" r="5.3" fill="#FF6F71"/>
<circle cx="1949.15" cy="129.9" r="5.3" fill="#FF6F71"/>
<circle cx="1778.7" cy="273" r="5.3" fill="#FF6F71"/>
<circle cx="1801.1" cy="272.7" r="5.3" fill="#FF6F71"/>
<polygon points="1578,307.6 1594.57,299.02 1611.14,290.44 1627.71,281.84 1644.28,273.23 1660.85,264.61 1677.42,255.95 1694,247.26 1710.57,238.5 1727.14,229.66 1743.71,220.66 1760.28,211.4 1776.85,201.66 1793.42,191.17 1809.99,179.79 1826.56,167.69 1843.13,155.16 1859.7,142.37 1876.28,129.44 1892.85,116.42 1909.42,103.35 1925.99,90.25 1942.56,77.12 1959.13,63.96 1975.7,50.8 1975.7,104.2 1959.13,112.79 1942.56,121.4 1925.99,130.03 1909.42,138.68 1892.85,147.37 1876.28,156.11 1859.7,164.94 1843.13,173.91 1826.56,183.13 1809.99,192.79 1793.42,203.17 1776.85,214.44 1760.28,226.46 1743.71,238.95 1727.14,251.71 1710.57,264.63 1694,277.64 1677.42,290.7 1660.85,303.8 1644.28,316.93 1627.71,330.08 1611.14,343.24 1594.57,356.42 1578,369.6" fill="#FFC54E" fill-opacity="0.4"/>
<line x1="1578" y1="338.6" x2="1975.7" y2="77.5" stroke="#FFC54E" stroke-width="3.6"/>
<polygon points="1587.6,288.2 1602.48,282.49 1617.36,276.77 1632.24,271.03 1647.12,265.28 1662,259.5 1676.88,253.68 1691.75,247.8 1706.63,241.85 1721.51,235.77 1736.39,229.51 1751.27,222.93 1766.15,215.91 1781.03,208.32 1795.91,200.19 1810.79,191.64 1825.67,182.81 1840.55,173.81 1855.42,164.7 1870.3,155.52 1885.18,146.29 1900.06,137.02 1914.94,127.73 1929.82,118.42 1944.7,109.1 1944.7,154.3 1929.82,160.02 1914.94,165.75 1900.06,171.5 1885.18,177.28 1870.3,183.09 1855.42,188.95 1840.55,194.88 1825.67,200.92 1810.79,207.14 1795.91,213.63 1781.03,220.54 1766.15,227.99 1751.27,236.01 1736.39,244.48 1721.51,253.25 1706.63,262.22 1691.75,271.31 1676.88,280.47 1662,289.7 1647.12,298.96 1632.24,308.24 1617.36,317.55 1602.48,326.87 1587.6,336.2" fill="#47B7E0" fill-opacity="0.4"/>
<line x1="1587.6" y1="312.2" x2="1944.7" y2="131.7" stroke="#47B7E0" stroke-width="3.6"/>
<polygon points="1619.8,318.8 1633.52,309.72 1647.25,300.62 1660.97,291.52 1674.7,282.39 1688.42,273.25 1702.15,264.07 1715.88,254.84 1729.6,245.53 1743.33,236.11 1757.05,226.49 1770.78,216.5 1784.5,205.93 1798.22,194.55 1811.95,182.39 1825.67,169.69 1839.4,156.67 1853.12,143.47 1866.85,130.15 1880.58,116.77 1894.3,103.34 1908.03,89.89 1921.75,76.4 1935.48,62.91 1949.2,49.4 1949.2,103.4 1935.48,112.49 1921.75,121.6 1908.03,130.71 1894.3,139.86 1880.58,149.03 1866.85,158.25 1853.12,167.53 1839.4,176.93 1825.67,186.51 1811.95,196.41 1798.22,206.85 1784.5,218.07 1770.78,230.1 1757.05,242.71 1743.33,255.69 1729.6,268.87 1715.88,282.16 1702.15,295.53 1688.42,308.95 1674.7,322.41 1660.97,335.88 1647.25,349.38 1633.52,362.88 1619.8,376.4" fill="#FF6F71" fill-opacity="0.4"/>
<line x1="1619.8" y1="347.6" x2="1949.2" y2="76.4" stroke="#FF6F71" stroke-width="3.6"/>
<line x1="1557.95" y1="210.3" x2="1995" y2="210.3" class="dl"/>
<line x1="1778.5" y1="400.8" x2="1778.5" y2="30" class="dl"/>
</g>
<rect x="1565.4" y="37" width="24.1" height="23.95" fill="#FFC54E" fill-opacity="0.4"/>
<line x1="1567.8" y1="49" x2="1587.1" y2="49" stroke="#FFC54E" stroke-width="3.6"/>
<circle cx="1577.45" cy="49" r="5.3" fill="#FFC54E"/>
<text x="1594.25" y="54.85" class="lg">HDL−C: rho=0.882</text>
<rect x="1565.4" y="60.9" width="24.1" height="23.95" fill="#47B7E0" fill-opacity="0.4"/>
<line x1="1567.8" y1="72.9" x2="1587.1" y2="72.9" stroke="#47B7E0" stroke-width="3.6"/>
<circle cx="1577.45" cy="72.9" r="5.3" fill="#47B7E0"/>
<text x="1594.25" y="78.75" class="lg">LDL−C: rho=0.857</text>
<rect x="1565.4" y="84.8" width="24.1" height="23.95" fill="#FF6F71" fill-opacity="0.4"/>
<line x1="1567.8" y1="96.8" x2="1587.1" y2="96.8" stroke="#FF6F71" stroke-width="3.6"/>
<circle cx="1577.45" cy="96.8" r="5.3" fill="#FF6F71"/>
<text x="1594.25" y="102.65" class="lg">TG: rho=0.897</text>
<rect x="1559.05" y="30" width="435.95" height="369.75" class="fr"/>
<line x1="1560.05" y1="31.5" x2="1994" y2="31.5" class="fs"/>
<line x1="1993.5" y1="31" x2="1993.5" y2="398.75" class="fs"/>
<line x1="1607" y1="400.75" x2="1607" y2="403.45" class="tk"/>
<text transform="translate(1607.3,416.65) scale(1,1.03)" class="xt">−0.2</text>
<line x1="1692.5" y1="400.75" x2="1692.5" y2="403.45" class="tk"/>
<text transform="translate(1692.8,416.65) scale(1,1.03)" class="xt">−0.1</text>
<line x1="1778.5" y1="400.75" x2="1778.5" y2="403.45" class="tk"/>
<text transform="translate(1778.8,416.65) scale(1,1.03)" class="xt">0.0</text>
<line x1="1864.25" y1="400.75" x2="1864.25" y2="403.45" class="tk"/>
<text transform="translate(1864.55,416.65) scale(1,1.03)" class="xt">0.1</text>
<line x1="1950" y1="400.75" x2="1950" y2="403.45" class="tk"/>
<text transform="translate(1950.3,416.65) scale(1,1.03)" class="xt">0.2</text>
<line x1="1558.05" y1="70.1" x2="1555.35" y2="70.1" class="tk"/>
<text transform="translate(1554.35,76) scale(1,1.03)" class="yt">0.2</text>
<line x1="1558.05" y1="140.2" x2="1555.35" y2="140.2" class="tk"/>
<text transform="translate(1554.35,146.1) scale(1,1.03)" class="yt">0.1</text>
<line x1="1558.05" y1="210.3" x2="1555.35" y2="210.3" class="tk"/>
<text transform="translate(1554.35,216.2) scale(1,1.03)" class="yt">0.0</text>
<line x1="1558.05" y1="280.4" x2="1555.35" y2="280.4" class="tk"/>
<text transform="translate(1554.35,286.3) scale(1,1.03)" class="yt">−0.1</text>
<line x1="1558.05" y1="350.5" x2="1555.35" y2="350.5" class="tk"/>
<text transform="translate(1554.35,356.4) scale(1,1.03)" class="yt">−0.2</text>
<text x="1776.73" y="435.2" class="at">EUR</text>
<text transform="translate(1521.7,215.28) rotate(-90)" class="at">HIS</text>
<text x="1558.15" y="19.6" class="ti">(D)</text>
</g>
<g class="panel" id="pE">
<clipPath id="clipE"><rect x="61.9" y="473.45" width="438.1" height="371.85"/></clipPath>
<g clip-path="url(#clipE)">
<circle cx="470.48" cy="499.2" r="5.3" fill="#FFC54E"/>
<circle cx="468.05" cy="504.6" r="5.3" fill="#FFC54E"/>
<circle cx="471.2" cy="505.5" r="5.3" fill="#FFC54E"/>
<circle cx="423.5" cy="533.85" r="5.3" fill="#FFC54E"/>
<circle cx="432.5" cy="532.95" r="5.3" fill="#FFC54E"/>
<circle cx="428" cy="535.2" r="5.3" fill="#FFC54E"/>
<circle cx="407.3" cy="550.5" r="5.3" fill="#FFC54E"/>
<circle cx="411.8" cy="548.7" r="5.3" fill="#FFC54E"/>
<circle cx="382.1" cy="564.9" r="5.3" fill="#FFC54E"/>
<circle cx="404.6" cy="558.6" r="5.3" fill="#FFC54E"/>
<circle cx="369.5" cy="576.6" r="5.3" fill="#FFC54E"/>
<circle cx="361.4" cy="583.8" r="5.3" fill="#FFC54E"/>
<circle cx="324.8" cy="582.8" r="5.3" fill="#FFC54E"/>
<circle cx="335.6" cy="584" r="5.3" fill="#FFC54E"/>
<circle cx="229.04" cy="642.56" r="5.3" fill="#FFC54E"/>
<circle cx="226.04" cy="666.2" r="5.3" fill="#FFC54E"/>
<circle cx="298.16" cy="655.64" r="5.3" fill="#FFC54E"/>
<circle cx="311.6" cy="611.6" r="5.3" fill="#FFC54E"/>
<circle cx="320" cy="610.4" r="5.3" fill="#FFC54E"/>
<circle cx="326" cy="604.4" r="5.3" fill="#FFC54E"/>
<circle cx="302" cy="621.2" r="5.3" fill="#FFC54E"/>
<circle cx="293.6" cy="630.8" r="5.3" fill="#FFC54E"/>
<circle cx="306.8" cy="639.8" r="5.3" fill="#FFC54E"/>
<circle cx="317.6" cy="633.2" r="5.3" fill="#FFC54E"/>
<circle cx="363.8" cy="617" r="5.3" fill="#FFC54E"/>
<circle cx="374" cy="611.6" r="5.3" fill="#FFC54E"/>
<circle cx="380" cy="609.2" r="5.3" fill="#FFC54E"/>
<circle cx="380" cy="615.2" r="5.3" fill="#FFC54E"/>
<circle cx="410" cy="623.6" r="5.3" fill="#FFC54E"/>
<circle cx="384.8" cy="618.8" r="5.3" fill="#FFC54E"/>
<circle cx="332" cy="608" r="5.3" fill="#FFC54E"/>
<circle cx="335.6" cy="604.4" r="5.3" fill="#FFC54E"/>
<circle cx="326" cy="622.4" r="5.3" fill="#FFC54E"/>
<circle cx="330.8" cy="627.2" r="5.3" fill="#FFC54E"/>
<circle cx="278" cy="642.8" r="5.3" fill="#FFC54E"/>
<circle cx="455.72" cy="536.1" r="5.3" fill="#47B7E0"/>
<circle cx="455.9" cy="544.65" r="5.3" fill="#47B7E0"/>
<circle cx="465.98" cy="538.35" r="5.3" fill="#47B7E0"/>
<circle cx="376.25" cy="553.2" r="5.3" fill="#47B7E0"/>
<circle cx="389.3" cy="564" r="5.3" fill="#47B7E0"/>
<circle cx="401.45" cy="568.05" r="5.3" fill="#47B7E0"/>
<circle cx="365" cy="573" r="5.3" fill="#47B7E0"/>
<circle cx="360.5" cy="582" r="5.3" fill="#47B7E0"/>
<circle cx="383" cy="581.1" r="5.3" fill="#47B7E0"/>
<circle cx="374.9" cy="582.9" r="5.3" fill="#47B7E0"/>
<circle cx="239.84" cy="626.24" r="5.3" fill="#47B7E0"/>
<circle cx="268.16" cy="638.24" r="5.3" fill="#47B7E0"/>
<circle cx="238.16" cy="664.4" r="5.3" fill="#47B7E0"/>
<circle cx="273.2" cy="661.4" r="5.3" fill="#47B7E0"/>
<circle cx="278" cy="663.8" r="5.3" fill="#47B7E0"/>
<circle cx="299.36" cy="663.2" r="5.3" fill="#47B7E0"/>
<circle cx="327.2" cy="650.6" r="5.3" fill="#47B7E0"/>
<circle cx="330.8" cy="644.6" r="5.3" fill="#47B7E0"/>
<circle cx="325.4" cy="627.8" r="5.3" fill="#47B7E0"/>
<circle cx="327.2" cy="633.2" r="5.3" fill="#47B7E0"/>
<circle cx="335" cy="633.8" r="5.3" fill="#47B7E0"/>
<circle cx="321.2" cy="610.4" r="5.3" fill="#47B7E0"/>
<circle cx="342.2" cy="617.6" r="5.3" fill="#47B7E0"/>
<circle cx="344" cy="608" r="5.3" fill="#47B7E0"/>
<circle cx="356" cy="606.8" r="5.3" fill="#47B7E0"/>
<circle cx="360.8" cy="607.4" r="5.3" fill="#47B7E0"/>
<circle cx="386.6" cy="623" r="5.3" fill="#47B7E0"/>
<circle cx="322.4" cy="579.8" r="5.3" fill="#47B7E0"/>
<circle cx="341.6" cy="579.8" r="5.3" fill="#47B7E0"/>
<circle cx="345.8" cy="582.8" r="5.3" fill="#47B7E0"/>
<circle cx="338" cy="611.6" r="5.3" fill="#47B7E0"/>
<circle cx="81.2" cy="827.8" r="5.3" fill="#47B7E0"/>
<circle cx="83.3" cy="828" r="5.3" fill="#47B7E0"/>
<circle cx="478.4" cy="491.1" r="5.3" fill="#FF6F71"/>
<circle cx="479.75" cy="519" r="5.3" fill="#FF6F71"/>
<circle cx="472.1" cy="536.1" r="5.3" fill="#FF6F71"/>
<circle cx="383" cy="550.95" r="5.3" fill="#FF6F71"/>
<circle cx="387.95" cy="550.05" r="5.3" fill="#FF6F71"/>
<circle cx="401" cy="552.75" r="5.3" fill="#FF6F71"/>
<circle cx="383.45" cy="556.8" r="5.3" fill="#FF6F71"/>
<circle cx="395.6" cy="560.4" r="5.3" fill="#FF6F71"/>
<circle cx="374" cy="567.6" r="5.3" fill="#FF6F71"/>
<circle cx="398.75" cy="575.25" r="5.3" fill="#FF6F71"/>
<circle cx="361.4" cy="574.8" r="5.3" fill="#FF6F71"/>
<circle cx="369.5" cy="578.4" r="5.3" fill="#FF6F71"/>
<circle cx="308" cy="571.4" r="5.3" fill="#FF6F71"/>
<circle cx="295.4" cy="621.2" r="5.3" fill="#FF6F71"/>
<circle cx="303.2" cy="615.2" r="5.3" fill="#FF6F71"/>
<circle cx="312.8" cy="618.8" r="5.3" fill="#FF6F71"/>
<circle cx="315.2" cy="626" r="5.3" fill="#FF6F71"/>
<circle cx="314.6" cy="638.6" r="5.3" fill="#FF6F71"/>
<circle cx="299.6" cy="638.6" r="5.3" fill="#FF6F71"/>
<circle cx="290" cy="644" r="5.3" fill="#FF6F71"/>
<circle cx="369.8" cy="607.4" r="5.3" fill="#FF6F71"/>
<circle cx="398.96" cy="629.24" r="5.3" fill="#FF6F71"/>
<circle cx="408.8" cy="630.8" r="5.3" fill="#FF6F71"/>
<circle cx="334.4" cy="615.8" r="5.3" fill="#FF6F71"/>
<circle cx="335.6" cy="581.6" r="5.3" fill="#FF6F71"/>
<circle cx="255.2" cy="657.2" r="5.3" fill="#FF6F71"/>
<circle cx="268.4" cy="658.4" r="5.3" fill="#FF6F71"/>
<circle cx="307" cy="572.63" r="5.3" fill="#FF6F71"/>
<circle cx="324.25" cy="583.13" r="5.3" fill="#FFC54E"/>
<circle cx="335.5" cy="583.88" r="5.3" fill="#FFC54E"/>
<circle cx="382" cy="565.5" r="5.3" fill="#FFC54E"/>
<polygon points="225.8,671.6 236.03,665.23 246.25,658.86 256.48,652.48 266.7,646.09 276.93,639.68 287.15,633.25 297.38,626.8 307.6,620.31 317.82,613.78 328.05,607.19 338.27,600.53 348.5,593.8 358.73,586.98 368.95,580.09 379.17,573.13 389.4,566.11 399.62,559.05 409.85,551.95 420.07,544.83 430.3,537.69 440.52,530.53 450.75,523.36 460.98,516.18 471.2,509 471.2,521 460.98,527.37 450.75,533.74 440.52,540.12 430.3,546.51 420.07,552.92 409.85,559.35 399.62,565.8 389.4,572.29 379.17,578.82 368.95,585.41 358.73,592.07 348.5,598.8 338.27,605.62 328.05,612.51 317.82,619.47 307.6,626.49 297.38,633.55 287.15,640.65 276.93,647.77 266.7,654.91 256.48,662.07 246.25,669.24 236.03,676.42 225.8,683.6" fill="#FFC54E" fill-opacity="0.4"/>
<line x1="225.8" y1="677.6" x2="471.2" y2="515" stroke="#FFC54E" stroke-width="3.6"/>
<polygon points="82.1,770.1 98.12,759.93 114.15,749.76 130.18,739.58 146.2,729.41 162.22,719.22 178.25,709.04 194.28,698.84 210.3,688.64 226.32,678.42 242.35,668.19 258.38,657.93 274.4,647.64 290.43,637.28 306.45,626.84 322.48,616.25 338.5,605.42 354.52,594.29 370.55,582.84 386.58,571.16 402.6,559.32 418.62,547.38 434.65,535.39 450.68,523.36 466.7,511.3 466.7,527.3 450.68,537.53 434.65,547.79 418.62,558.09 402.6,568.45 386.58,578.9 370.55,589.51 354.52,600.36 338.5,611.51 322.48,622.98 306.45,634.68 290.43,646.52 274.4,658.46 258.38,670.46 242.35,682.49 226.32,694.55 210.3,706.63 194.28,718.72 178.25,730.81 162.22,742.92 146.2,755.03 130.18,767.14 114.15,779.26 98.12,791.38 82.1,803.5" fill="#47B7E0" fill-opacity="0.4"/>
<line x1="82.1" y1="786.8" x2="466.7" y2="519.3" stroke="#47B7E0" stroke-width="3.6"/>
<polygon points="257,648.8 266.28,643.59 275.57,638.36 284.85,633.1 294.13,627.8 303.42,622.43 312.7,617 321.98,611.46 331.27,605.8 340.55,600 349.83,594.08 359.12,588.05 368.4,581.94 377.68,575.76 386.97,569.53 396.25,563.27 405.53,556.99 414.82,550.69 424.1,544.37 433.38,538.04 442.67,531.7 451.95,525.36 461.23,519.01 470.52,512.66 479.8,506.3 479.8,527.3 470.52,532.44 461.23,537.59 451.95,542.74 442.67,547.9 433.38,553.06 424.1,558.23 414.82,563.41 405.53,568.61 396.25,573.83 386.97,579.07 377.68,584.34 368.4,589.66 359.12,595.05 349.83,600.52 340.55,606.1 331.27,611.8 321.98,617.64 312.7,623.6 303.42,629.67 294.13,635.8 284.85,642 275.57,648.24 266.28,654.51 257,660.8" fill="#FF6F71" fill-opacity="0.4"/>
<line x1="257" y1="654.8" x2="479.8" y2="516.8" stroke="#FF6F71" stroke-width="3.6"/>
<line x1="62" y1="595.3" x2="499" y2="595.3" class="dl"/>
<line x1="351.1" y1="845.25" x2="351.1" y2="474.45" class="dl"/>
</g>
<rect x="69.3" y="481.45" width="24.1" height="23.95" fill="#FFC54E" fill-opacity="0.4"/>
<line x1="71.7" y1="493.45" x2="91" y2="493.45" stroke="#FFC54E" stroke-width="3.6"/>
<circle cx="81.35" cy="493.45" r="5.3" fill="#FFC54E"/>
<text x="98.15" y="499.3" class="lg">HDL−C: rho=0.893</text>
<rect x="69.3" y="505.35" width="24.1" height="23.95" fill="#47B7E0" fill-opacity="0.4"/>
<line x1="71.7" y1="517.35" x2="91" y2="517.35" stroke="#47B7E0" stroke-width="3.6"/>
<circle cx="81.35" cy="517.35" r="5.3" fill="#47B7E0"/>
<text x="98.15" y="523.2" class="lg">LDL−C: rho=0.904</text>
<rect x="69.3" y="529.25" width="24.1" height="23.95" fill="#FF6F71" fill-opacity="0.4"/>
<line x1="71.7" y1="541.25" x2="91" y2="541.25" stroke="#FF6F71" stroke-width="3.6"/>
<circle cx="81.35" cy="541.25" r="5.3" fill="#FF6F71"/>
<text x="98.15" y="547.1" class="lg">TG: rho=0.875</text>
<rect x="63.1" y="474.45" width="435.9" height="369.75" class="fr"/>
<line x1="64.1" y1="475.95" x2="498" y2="475.95" class="fs"/>
<line x1="497.5" y1="475.45" x2="497.5" y2="843.2" class="fs"/>
<line x1="142.5" y1="845.2" x2="142.5" y2="847.9" class="tk"/>
<text transform="translate(142.8,861.1) scale(1,1.03)" class="xt">−0.4</text>
<line x1="246.75" y1="845.2" x2="246.75" y2="847.9" class="tk"/>
<text transform="translate(247.05,861.1) scale(1,1.03)" class="xt">−0.2</text>
<line x1="351" y1="845.2" x2="351" y2="847.9" class="tk"/>
<text transform="translate(351.3,861.1) scale(1,1.03)" class="xt">0.0</text>
<line x1="455.25" y1="845.2" x2="455.25" y2="847.9" class="tk"/>
<text transform="translate(455.55,861.1) scale(1,1.03)" class="xt">0.2</text>
<line x1="62.1" y1="506.1" x2="59.4" y2="506.1" class="tk"/>
<text transform="translate(58.4,512) scale(1,1.03)" class="yt">0.25</text>
<line x1="62.1" y1="595.4" x2="59.4" y2="595.4" class="tk"/>
<text transform="translate(58.4,601.3) scale(1,1.03)" class="yt">0.00</text>
<line x1="62.1" y1="684.7" x2="59.4" y2="684.7" class="tk"/>
<text transform="translate(58.4,690.6) scale(1,1.03)" class="yt">−0.25</text>
<line x1="62.1" y1="774.1" x2="59.4" y2="774.1" class="tk"/>
<text transform="translate(58.4,780) scale(1,1.03)" class="yt">−0.50</text>
<text x="280.75" y="879.65" class="at">EUR</text>
<text transform="translate(18.4,659.73) rotate(-90)" class="at">EAS</text>
<text x="62.2" y="464.05" class="ti">(E)</text>
</g>
<g class="panel" id="pF">
<clipPath id="clipF"><rect x="557.85" y="473.45" width="438.15" height="371.85"/></clipPath>
<g clip-path="url(#clipF)">
<circle cx="578.04" cy="711.16" r="5.3" fill="#FFC54E"/>
<circle cx="737.76" cy="714.16" r="5.3" fill="#FFC54E"/>
<circle cx="776.4" cy="679.96" r="5.3" fill="#FFC54E"/>
<circle cx="716.16" cy="693.64" r="5.3" fill="#FFC54E"/>
<circle cx="721.2" cy="679" r="5.3" fill="#FFC54E"/>
<circle cx="730.8" cy="646" r="5.3" fill="#FFC54E"/>
<circle cx="727.8" cy="669.4" r="5.3" fill="#FFC54E"/>
<circle cx="741" cy="650.8" r="5.3" fill="#FFC54E"/>
<circle cx="735" cy="650.8" r="5.3" fill="#FFC54E"/>
<circle cx="791.4" cy="650.8" r="5.3" fill="#FFC54E"/>
<circle cx="918.16" cy="537.92" r="5.3" fill="#FFC54E"/>
<circle cx="879.64" cy="568.76" r="5.3" fill="#FFC54E"/>
<circle cx="866.2" cy="588.8" r="5.3" fill="#FFC54E"/>
<circle cx="828.76" cy="597.44" r="5.3" fill="#FFC54E"/>
<circle cx="839.2" cy="612.2" r="5.3" fill="#FFC54E"/>
<circle cx="850" cy="621.8" r="5.3" fill="#FFC54E"/>
<circle cx="862.6" cy="642.2" r="5.3" fill="#FFC54E"/>
<circle cx="791.8" cy="650" r="5.3" fill="#FFC54E"/>
<circle cx="808" cy="624.8" r="5.3" fill="#FFC54E"/>
<circle cx="975.63" cy="491.06" r="5.3" fill="#FFC54E"/>
<circle cx="737.65" cy="589.19" r="5.3" fill="#FFC54E"/>
<circle cx="699.6" cy="598.54" r="5.3" fill="#FFC54E"/>
<circle cx="737.65" cy="714.03" r="5.3" fill="#FFC54E"/>
<circle cx="866.15" cy="713.69" r="5.3" fill="#FFC54E"/>
<circle cx="718.8" cy="627.04" r="5.3" fill="#47B7E0"/>
<circle cx="747.36" cy="633.4" r="5.3" fill="#47B7E0"/>
<circle cx="596.04" cy="685.84" r="5.3" fill="#47B7E0"/>
<circle cx="687.36" cy="652.36" r="5.3" fill="#47B7E0"/>
<circle cx="696.36" cy="685.84" r="5.3" fill="#47B7E0"/>
<circle cx="655.2" cy="739.6" r="5.3" fill="#47B7E0"/>
<circle cx="724.2" cy="648.64" r="5.3" fill="#47B7E0"/>
<circle cx="784.2" cy="699.76" r="5.3" fill="#47B7E0"/>
<circle cx="790.2" cy="699.76" r="5.3" fill="#47B7E0"/>
<circle cx="835" cy="599" r="5.3" fill="#47B7E0"/>
<circle cx="934.84" cy="567.56" r="5.3" fill="#47B7E0"/>
<circle cx="945.04" cy="572" r="5.3" fill="#47B7E0"/>
<circle cx="772" cy="623" r="5.3" fill="#47B7E0"/>
<circle cx="782.8" cy="625.4" r="5.3" fill="#47B7E0"/>
<circle cx="778" cy="630.8" r="5.3" fill="#47B7E0"/>
<circle cx="813.4" cy="621.2" r="5.3" fill="#47B7E0"/>
<circle cx="818.2" cy="633.2" r="5.3" fill="#47B7E0"/>
<circle cx="805.6" cy="645.8" r="5.3" fill="#47B7E0"/>
<circle cx="619.8" cy="738.4" r="5.3" fill="#FF6F71"/>
<circle cx="704.64" cy="653.2" r="5.3" fill="#FF6F71"/>
<circle cx="703.2" cy="668.8" r="5.3" fill="#FF6F71"/>
<circle cx="750.6" cy="663.4" r="5.3" fill="#FF6F71"/>
<circle cx="738.6" cy="659.2" r="5.3" fill="#FF6F71"/>
<circle cx="769.8" cy="641.2" r="5.3" fill="#FF6F71"/>
<circle cx="827.8" cy="582.2" r="5.3" fill="#FF6F71"/>
<circle cx="831.4" cy="584.6" r="5.3" fill="#FF6F71"/>
<circle cx="817" cy="600.2" r="5.3" fill="#FF6F71"/>
<circle cx="801.4" cy="609.2" r="5.3" fill="#FF6F71"/>
<circle cx="778.6" cy="609.2" r="5.3" fill="#FF6F71"/>
<circle cx="777.16" cy="618.8" r="5.3" fill="#FF6F71"/>
<circle cx="847" cy="602.6" r="5.3" fill="#FF6F71"/>
<circle cx="921.76" cy="560.36" r="5.3" fill="#FF6F71"/>
<circle cx="915.4" cy="572" r="5.3" fill="#FF6F71"/>
<circle cx="795.64" cy="623.6" r="5.3" fill="#FF6F71"/>
<circle cx="820.36" cy="642.8" r="5.3" fill="#FF6F71"/>
<circle cx="809.8" cy="635.6" r="5.3" fill="#FF6F71"/>
<circle cx="770.8" cy="646.4" r="5.3" fill="#FF6F71"/>
<circle cx="778.7" cy="828.51" r="5.3" fill="#FF6F71"/>
<circle cx="801.07" cy="828.51" r="5.3" fill="#FF6F71"/>
<circle cx="948.93" cy="696.67" r="5.3" fill="#FF6F71"/>
<polygon points="578,682.9 594.58,678.71 611.17,674.5 627.75,670.24 644.33,665.93 660.92,661.56 677.5,657.1 694.08,652.52 710.67,647.78 727.25,642.8 743.83,637.5 760.42,631.75 777,625.4 793.58,618.34 810.17,610.55 826.75,602.11 843.33,593.14 859.92,583.8 876.5,574.17 893.08,564.36 909.67,554.41 926.25,544.35 942.83,534.22 959.42,524.03 976,513.8 976,591.8 959.42,596.03 942.83,600.31 926.25,604.65 909.67,609.06 893.08,613.57 876.5,618.23 859.92,623.07 843.33,628.19 826.75,633.69 810.17,639.71 793.58,646.39 777,653.8 760.42,661.92 743.83,670.63 727.25,679.8 710.67,689.29 694.08,699.01 677.5,708.9 660.92,718.91 644.33,729 627.75,739.16 611.17,749.37 594.58,759.62 578,769.9" fill="#FFC54E" fill-opacity="0.4"/>
<line x1="578" y1="726.4" x2="976" y2="552.8" stroke="#FFC54E" stroke-width="3.6"/>
<polygon points="596,683 610.53,679.52 625.07,676.01 639.6,672.48 654.13,668.92 668.67,665.31 683.2,661.64 697.73,657.9 712.27,654.04 726.8,650.02 741.33,645.79 755.87,641.25 770.4,636.32 784.93,630.93 799.47,625.07 814,618.81 828.53,612.22 843.07,605.41 857.6,598.42 872.13,591.32 886.67,584.13 901.2,576.89 915.73,569.59 930.27,562.26 944.8,554.9 944.8,605.5 930.27,609.01 915.73,612.54 901.2,616.11 886.67,619.73 872.13,623.41 857.6,627.18 843.07,631.06 828.53,635.11 814,639.39 799.47,644 784.93,649.01 770.4,654.48 755.87,660.42 741.33,666.75 726.8,673.38 712.27,680.23 697.73,687.24 683.2,694.36 668.67,701.56 654.13,708.81 639.6,716.12 625.07,723.45 610.53,730.82 596,738.2" fill="#47B7E0" fill-opacity="0.4"/>
<line x1="596" y1="710.6" x2="944.8" y2="580.2" stroke="#47B7E0" stroke-width="3.6"/>
<polygon points="619.8,643.8 633.53,643.24 647.27,642.6 661,641.88 674.73,641.05 688.47,640.08 702.2,638.92 715.93,637.53 729.67,635.83 743.4,633.73 757.13,631.13 770.87,627.9 784.6,623.92 798.33,619.15 812.07,613.59 825.8,607.3 839.53,600.39 853.27,593 867,585.21 880.73,577.14 894.47,568.83 908.2,560.35 921.93,551.73 935.67,543.01 949.4,534.2 949.4,652.6 935.67,653.22 921.93,653.93 908.2,654.75 894.47,655.7 880.73,656.83 867,658.19 853.27,659.84 839.53,661.87 825.8,664.4 812.07,667.55 798.33,671.41 784.6,676.08 770.87,681.54 757.13,687.74 743.4,694.57 729.67,701.9 715.93,709.64 702.2,717.68 688.47,725.96 674.73,734.42 661,743.02 647.27,751.73 633.53,760.53 619.8,769.4" fill="#FF6F71" fill-opacity="0.4"/>
<line x1="619.8" y1="706.6" x2="949.4" y2="593.4" stroke="#FF6F71" stroke-width="3.6"/>
<line x1="557.95" y1="638.7" x2="995" y2="638.7" class="dl"/>
<line x1="778.5" y1="845.25" x2="778.5" y2="474.45" class="dl"/>
</g>
<rect x="565.4" y="481.45" width="24.1" height="23.95" fill="#FFC54E" fill-opacity="0.4"/>
<line x1="567.8" y1="493.45" x2="587.1" y2="493.45" stroke="#FFC54E" stroke-width="3.6"/>
<circle cx="577.45" cy="493.45" r="5.3" fill="#FFC54E"/>
<text x="594.25" y="499.3" class="lg">HDL−C: rho=0.675</text>
<rect x="565.4" y="505.35" width="24.1" height="23.95" fill="#47B7E0" fill-opacity="0.4"/>
<line x1="567.8" y1="517.35" x2="587.1" y2="517.35" stroke="#47B7E0" stroke-width="3.6"/>
<circle cx="577.45" cy="517.35" r="5.3" fill="#47B7E0"/>
<text x="594.25" y="523.2" class="lg">LDL−C: rho=0.736</text>
<rect x="565.4" y="529.25" width="24.1" height="23.95" fill="#FF6F71" fill-opacity="0.4"/>
<line x1="567.8" y1="541.25" x2="587.1" y2="541.25" stroke="#FF6F71" stroke-width="3.6"/>
<circle cx="577.45" cy="541.25" r="5.3" fill="#FF6F71"/>
<text x="594.25" y="547.1" class="lg">TG: rho=0.376</text>
<rect x="559.05" y="474.45" width="435.95" height="369.75" class="fr"/>
<line x1="560.05" y1="475.95" x2="994" y2="475.95" class="fs"/>
<line x1="993.5" y1="475.45" x2="993.5" y2="843.2" class="fs"/>
<line x1="607" y1="845.2" x2="607" y2="847.9" class="tk"/>
<text transform="translate(607.3,861.1) scale(1,1.03)" class="xt">−0.2</text>
<line x1="692.5" y1="845.2" x2="692.5" y2="847.9" class="tk"/>
<text transform="translate(692.8,861.1) scale(1,1.03)" class="xt">−0.1</text>
<line x1="778.5" y1="845.2" x2="778.5" y2="847.9" class="tk"/>
<text transform="translate(778.8,861.1) scale(1,1.03)" class="xt">0.0</text>
<line x1="864.25" y1="845.2" x2="864.25" y2="847.9" class="tk"/>
<text transform="translate(864.55,861.1) scale(1,1.03)" class="xt">0.1</text>
<line x1="950" y1="845.2" x2="950" y2="847.9" class="tk"/>
<text transform="translate(950.3,861.1) scale(1,1.03)" class="xt">0.2</text>
<line x1="558.05" y1="528.8" x2="555.35" y2="528.8" class="tk"/>
<text transform="translate(554.35,534.7) scale(1,1.03)" class="yt">0.2</text>
<line x1="558.05" y1="638.6" x2="555.35" y2="638.6" class="tk"/>
<text transform="translate(554.35,644.5) scale(1,1.03)" class="yt">0.0</text>
<line x1="558.05" y1="748.4" x2="555.35" y2="748.4" class="tk"/>
<text transform="translate(554.35,754.3) scale(1,1.03)" class="yt">−0.2</text>
<text x="776.73" y="879.65" class="at">EUR</text>
<text transform="translate(521.7,659.73) rotate(-90)" class="at">EAS</text>
<text x="558.15" y="464.05" class="ti">(F)</text>
</g>
<g class="panel" id="pG">
<clipPath id="clipG"><rect x="1061.9" y="473.45" width="438.1" height="371.85"/></clipPath>
<g clip-path="url(#clipG)">
<circle cx="1479.52" cy="501.52" r="5.3" fill="#FFC54E"/>
<circle cx="1417.05" cy="541.42" r="5.3" fill="#FFC54E"/>
<circle cx="1436.47" cy="540.37" r="5.3" fill="#FFC54E"/>
<circle cx="1400.77" cy="547.72" r="5.3" fill="#FFC54E"/>
<circle cx="1396.05" cy="553.5" r="5.3" fill="#FFC54E"/>
<circle cx="1352.47" cy="565.57" r="5.3" fill="#FFC54E"/>
<circle cx="1357.2" cy="570.3" r="5.3" fill="#FFC54E"/>
<circle cx="1364.55" cy="574.5" r="5.3" fill="#FFC54E"/>
<circle cx="1412.85" cy="564" r="5.3" fill="#FFC54E"/>
<circle cx="1393.95" cy="576.6" r="5.3" fill="#FFC54E"/>
<circle cx="1400.25" cy="570.3" r="5.3" fill="#FFC54E"/>
<circle cx="1335.65" cy="635.8" r="5.3" fill="#FFC54E"/>
<circle cx="1321.7" cy="638.5" r="5.3" fill="#FFC54E"/>
<circle cx="1357.25" cy="609.7" r="5.3" fill="#FFC54E"/>
<circle cx="1360.4" cy="604.3" r="5.3" fill="#FFC54E"/>
<circle cx="1364.9" cy="602.5" r="5.3" fill="#FFC54E"/>
<circle cx="1328" cy="615.1" r="5.3" fill="#FFC54E"/>
<circle cx="1337" cy="609.7" r="5.3" fill="#FFC54E"/>
<circle cx="1356" cy="610.75" r="5.3" fill="#FFC54E"/>
<circle cx="1360.5" cy="606.25" r="5.3" fill="#FFC54E"/>
<circle cx="1395" cy="577" r="5.3" fill="#FFC54E"/>
<circle cx="1433.01" cy="559.8" r="5.3" fill="#47B7E0"/>
<circle cx="1387.12" cy="562.95" r="5.3" fill="#47B7E0"/>
<circle cx="1382.4" cy="571.35" r="5.3" fill="#47B7E0"/>
<circle cx="1392.9" cy="561.9" r="5.3" fill="#47B7E0"/>
<circle cx="1400.25" cy="596.55" r="5.3" fill="#47B7E0"/>
<circle cx="1238.9" cy="675.85" r="5.3" fill="#47B7E0"/>
<circle cx="1242.95" cy="674.5" r="5.3" fill="#47B7E0"/>
<circle cx="1273.55" cy="686.65" r="5.3" fill="#47B7E0"/>
<circle cx="1308.65" cy="626.35" r="5.3" fill="#47B7E0"/>
<circle cx="1312.7" cy="626.35" r="5.3" fill="#47B7E0"/>
<circle cx="1345.1" cy="623.65" r="5.3" fill="#47B7E0"/>
<circle cx="1367.6" cy="601.6" r="5.3" fill="#47B7E0"/>
<circle cx="1389.2" cy="616" r="5.3" fill="#47B7E0"/>
<circle cx="1324.4" cy="616" r="5.3" fill="#47B7E0"/>
<circle cx="1391" cy="599.8" r="5.3" fill="#47B7E0"/>
<circle cx="1397.75" cy="597.1" r="5.3" fill="#47B7E0"/>
<circle cx="1383.8" cy="595.3" r="5.3" fill="#47B7E0"/>
<circle cx="1355" cy="600.7" r="5.3" fill="#47B7E0"/>
<circle cx="1082.1" cy="795.1" r="5.3" fill="#47B7E0"/>
<circle cx="1391.32" cy="533.02" r="5.3" fill="#FF6F71"/>
<circle cx="1394.26" cy="541.42" r="5.3" fill="#FF6F71"/>
<circle cx="1446.45" cy="531.97" r="5.3" fill="#FF6F71"/>
<circle cx="1388.7" cy="561.37" r="5.3" fill="#FF6F71"/>
<circle cx="1362.97" cy="566.62" r="5.3" fill="#FF6F71"/>
<circle cx="1360.87" cy="578.91" r="5.3" fill="#FF6F71"/>
<circle cx="1382.4" cy="568.2" r="5.3" fill="#FF6F71"/>
<circle cx="1302.35" cy="646.6" r="5.3" fill="#FF6F71"/>
<circle cx="1337.45" cy="631.75" r="5.3" fill="#FF6F71"/>
<circle cx="1383.35" cy="597.1" r="5.3" fill="#FF6F71"/>
<circle cx="1389.2" cy="600.7" r="5.3" fill="#FF6F71"/>
<circle cx="1398.2" cy="609.25" r="5.3" fill="#FF6F71"/>
<circle cx="1357.7" cy="615.55" r="5.3" fill="#FF6F71"/>
<circle cx="1348.7" cy="619.6" r="5.3" fill="#FF6F71"/>
<circle cx="1360.85" cy="580.9" r="5.3" fill="#FF6F71"/>
<circle cx="1315.4" cy="636.7" r="5.3" fill="#FF6F71"/>
<circle cx="1354.1" cy="607" r="5.3" fill="#FF6F71"/>
<circle cx="1136.2" cy="806.8" r="5.3" fill="#FF6F71"/>
<polygon points="1321.7,612.6 1328.28,608.38 1334.85,604.15 1341.42,599.89 1348,595.59 1354.58,591.24 1361.15,586.8 1367.73,582.26 1374.3,577.57 1380.88,572.71 1387.45,567.67 1394.03,562.47 1400.6,557.17 1407.17,551.78 1413.75,546.33 1420.33,540.85 1426.9,535.34 1433.47,529.8 1440.05,524.25 1446.62,518.7 1453.2,513.13 1459.78,507.55 1466.35,501.97 1472.92,496.39 1479.5,490.8 1479.5,514.4 1472.92,518.56 1466.35,522.73 1459.78,526.9 1453.2,531.07 1446.62,535.25 1440.05,539.45 1433.47,543.65 1426.9,547.86 1420.33,552.1 1413.75,556.37 1407.17,560.67 1400.6,565.03 1394.03,569.48 1387.45,574.03 1380.88,578.74 1374.3,583.63 1367.73,588.69 1361.15,593.9 1354.58,599.21 1348,604.61 1341.42,610.06 1334.85,615.55 1328.28,621.07 1321.7,626.6" fill="#FFC54E" fill-opacity="0.4"/>
<line x1="1321.7" y1="619.6" x2="1479.5" y2="502.6" stroke="#FFC54E" stroke-width="3.6"/>
<polygon points="1082.1,773.6 1096.73,764.43 1111.37,755.27 1126,746.1 1140.63,736.93 1155.27,727.76 1169.9,718.59 1184.53,709.41 1199.17,700.23 1213.8,691.05 1228.43,681.86 1243.07,672.67 1257.7,663.46 1272.33,654.25 1286.97,645.01 1301.6,635.75 1316.23,626.44 1330.87,617.07 1345.5,607.57 1360.13,597.88 1374.77,587.92 1389.4,577.67 1404.03,567.17 1418.67,556.53 1433.3,545.8 1433.3,554.8 1418.67,564.14 1404.03,573.56 1389.4,583.13 1374.77,592.94 1360.13,603.05 1345.5,613.43 1330.87,624 1316.23,634.69 1301.6,645.45 1286.97,656.25 1272.33,667.09 1257.7,677.94 1243.07,688.8 1228.43,699.67 1213.8,710.55 1199.17,721.43 1184.53,732.32 1169.9,743.21 1155.27,754.11 1140.63,765 1126,775.9 1111.37,786.8 1096.73,797.7 1082.1,808.6" fill="#47B7E0" fill-opacity="0.4"/>
<line x1="1082.1" y1="791.1" x2="1433.3" y2="550.3" stroke="#47B7E0" stroke-width="3.6"/>
<polygon points="1136.2,777.1 1149.1,767.04 1162.01,756.99 1174.91,746.93 1187.82,736.87 1200.72,726.81 1213.62,716.74 1226.53,706.67 1239.43,696.6 1252.34,686.51 1265.24,676.42 1278.15,666.31 1291.05,656.17 1303.95,646 1316.86,635.75 1329.76,625.36 1342.67,614.67 1355.57,603.38 1368.48,591.33 1381.38,578.73 1394.28,565.86 1407.19,552.87 1420.09,539.81 1433,526.72 1445.9,513.6 1445.9,536.6 1433,546.71 1420.09,556.84 1407.19,567 1394.28,577.24 1381.38,587.59 1368.48,598.22 1355.57,609.39 1342.67,621.33 1329.76,633.86 1316.86,646.7 1303.95,659.68 1291.05,672.73 1278.15,685.82 1265.24,698.93 1252.34,712.06 1239.43,725.2 1226.53,738.35 1213.62,751.51 1200.72,764.67 1187.82,777.83 1174.91,790.99 1162.01,804.16 1149.1,817.33 1136.2,830.5" fill="#FF6F71" fill-opacity="0.4"/>
<line x1="1136.2" y1="803.8" x2="1445.9" y2="525.1" stroke="#FF6F71" stroke-width="3.6"/>
<line x1="1062" y1="586.8" x2="1499" y2="586.8" class="dl"/>
<line x1="1374.3" y1="845.25" x2="1374.3" y2="474.45" class="dl"/>
</g>
<rect x="1069.3" y="481.45" width="24.1" height="23.95" fill="#FFC54E" fill-opacity="0.4"/>
<line x1="1071.7" y1="493.45" x2="1091" y2="493.45" stroke="#FFC54E" stroke-width="3.6"/>
<circle cx="1081.35" cy="493.45" r="5.3" fill="#FFC54E"/>
<text x="1098.15" y="499.3" class="lg">HDL−C: rho=0.855</text>
<rect x="1069.3" y="505.35" width="24.1" height="23.95" fill="#47B7E0" fill-opacity="0.4"/>
<line x1="1071.7" y1="517.35" x2="1091" y2="517.35" stroke="#47B7E0" stroke-width="3.6"/>
<circle cx="1081.35" cy="517.35" r="5.3" fill="#47B7E0"/>
<text x="1098.15" y="523.2" class="lg">LDL−C: rho=0.955</text>
<rect x="1069.3" y="529.25" width="24.1" height="23.95" fill="#FF6F71" fill-opacity="0.4"/>
<line x1="1071.7" y1="541.25" x2="1091" y2="541.25" stroke="#FF6F71" stroke-width="3.6"/>
<circle cx="1081.35" cy="541.25" r="5.3" fill="#FF6F71"/>
<text x="1098.15" y="547.1" class="lg">TG: rho=0.914</text>
<rect x="1063.1" y="474.45" width="435.9" height="369.75" class="fr"/>
<line x1="1064.1" y1="475.95" x2="1498" y2="475.95" class="fs"/>
<line x1="1497.5" y1="475.45" x2="1497.5" y2="843.2" class="fs"/>
<line x1="1157.5" y1="845.2" x2="1157.5" y2="847.9" class="tk"/>
<text transform="translate(1157.8,861.1) scale(1,1.03)" class="xt">−0.8</text>
<line x1="1265.75" y1="845.2" x2="1265.75" y2="847.9" class="tk"/>
<text transform="translate(1266.05,861.1) scale(1,1.03)" class="xt">−0.4</text>
<line x1="1374" y1="845.2" x2="1374" y2="847.9" class="tk"/>
<text transform="translate(1374.3,861.1) scale(1,1.03)" class="xt">0.0</text>
<line x1="1482.25" y1="845.2" x2="1482.25" y2="847.9" class="tk"/>
<text transform="translate(1482.55,861.1) scale(1,1.03)" class="xt">0.4</text>
<line x1="1062.1" y1="484.4" x2="1059.4" y2="484.4" class="tk"/>
<text transform="translate(1058.4,490.3) scale(1,1.03)" class="yt">0.5</text>
<line x1="1062.1" y1="586.9" x2="1059.4" y2="586.9" class="tk"/>
<text transform="translate(1058.4,592.8) scale(1,1.03)" class="yt">0.0</text>
<line x1="1062.1" y1="689.3" x2="1059.4" y2="689.3" class="tk"/>
<text transform="translate(1058.4,695.2) scale(1,1.03)" class="yt">−0.5</text>
<line x1="1062.1" y1="791.8" x2="1059.4" y2="791.8" class="tk"/>
<text transform="translate(1058.4,797.7) scale(1,1.03)" class="yt">−1.0</text>
<text x="1280.75" y="879.65" class="at">AFR</text>
<text transform="translate(1026,659.73) rotate(-90)" class="at">HIS</text>
<text x="1062.2" y="464.05" class="ti">(G)</text>
</g>
<g class="panel" id="pH">
<clipPath id="clipH"><rect x="1557.85" y="473.45" width="438.15" height="371.85"/></clipPath>
<g clip-path="url(#clipH)">
<circle cx="1855.8" cy="573.8" r="5.3" fill="#FFC54E"/>
<circle cx="1669.56" cy="641.36" r="5.3" fill="#FFC54E"/>
<circle cx="1768.8" cy="643.4" r="5.3" fill="#FFC54E"/>
<circle cx="1778.4" cy="642.8" r="5.3" fill="#FFC54E"/>
<circle cx="1769.4" cy="650.6" r="5.3" fill="#FFC54E"/>
<circle cx="1778.4" cy="650.6" r="5.3" fill="#FFC54E"/>
<circle cx="1744.2" cy="653.6" r="5.3" fill="#FFC54E"/>
<circle cx="1738.2" cy="659.6" r="5.3" fill="#FFC54E"/>
<circle cx="1750.2" cy="671.6" r="5.3" fill="#FFC54E"/>
<circle cx="1720.56" cy="678.8" r="5.3" fill="#FFC54E"/>
<circle cx="1728.6" cy="682.4" r="5.3" fill="#FFC54E"/>
<circle cx="1784.4" cy="662" r="5.3" fill="#FFC54E"/>
<circle cx="1701" cy="737.76" r="5.3" fill="#FFC54E"/>
<circle cx="1720.2" cy="798" r="5.3" fill="#FFC54E"/>
<circle cx="1757.4" cy="707.16" r="5.3" fill="#FFC54E"/>
<circle cx="1744.8" cy="720" r="5.3" fill="#FFC54E"/>
<circle cx="1752" cy="720.6" r="5.3" fill="#FFC54E"/>
<circle cx="1717.2" cy="713.4" r="5.3" fill="#FFC54E"/>
<circle cx="1725.6" cy="715.8" r="5.3" fill="#FFC54E"/>
<circle cx="1975.6" cy="558.5" r="5.3" fill="#FFC54E"/>
<circle cx="1742.4" cy="636.2" r="5.3" fill="#47B7E0"/>
<circle cx="1771.8" cy="632.36" r="5.3" fill="#47B7E0"/>
<circle cx="1756.2" cy="644.36" r="5.3" fill="#47B7E0"/>
<circle cx="1762.44" cy="655.04" r="5.3" fill="#47B7E0"/>
<circle cx="1703.64" cy="675.2" r="5.3" fill="#47B7E0"/>
<circle cx="1780.8" cy="667.4" r="5.3" fill="#47B7E0"/>
<circle cx="1723.2" cy="686" r="5.3" fill="#47B7E0"/>
<circle cx="1752" cy="688.4" r="5.3" fill="#47B7E0"/>
<circle cx="1755.6" cy="683.6" r="5.3" fill="#47B7E0"/>
<circle cx="1641.36" cy="759.96" r="5.3" fill="#47B7E0"/>
<circle cx="1682.76" cy="754.2" r="5.3" fill="#47B7E0"/>
<circle cx="1744.8" cy="750.84" r="5.3" fill="#47B7E0"/>
<circle cx="1747.2" cy="766.8" r="5.3" fill="#47B7E0"/>
<circle cx="1798.2" cy="771.84" r="5.3" fill="#47B7E0"/>
<circle cx="1734.6" cy="718.44" r="5.3" fill="#47B7E0"/>
<circle cx="1753.2" cy="721.44" r="5.3" fill="#47B7E0"/>
<circle cx="1754.4" cy="692.4" r="5.3" fill="#47B7E0"/>
<circle cx="1732.8" cy="704.4" r="5.3" fill="#47B7E0"/>
<circle cx="1801.2" cy="570.56" r="5.3" fill="#FF6F71"/>
<circle cx="1749.6" cy="596.84" r="5.3" fill="#FF6F71"/>
<circle cx="1712.76" cy="625.16" r="5.3" fill="#FF6F71"/>
<circle cx="1640.04" cy="656.36" r="5.3" fill="#FF6F71"/>
<circle cx="1784.4" cy="634.16" r="5.3" fill="#FF6F71"/>
<circle cx="1715.16" cy="667.04" r="5.3" fill="#FF6F71"/>
<circle cx="1698.6" cy="674.96" r="5.3" fill="#FF6F71"/>
<circle cx="1744.2" cy="668.6" r="5.3" fill="#FF6F71"/>
<circle cx="1751.4" cy="668" r="5.3" fill="#FF6F71"/>
<circle cx="1734.6" cy="673.4" r="5.3" fill="#FF6F71"/>
<circle cx="1578" cy="828.36" r="5.3" fill="#FF6F71"/>
<circle cx="1708.8" cy="737.16" r="5.3" fill="#FF6F71"/>
<circle cx="1743.6" cy="739.2" r="5.3" fill="#FF6F71"/>
<circle cx="1750.8" cy="739.44" r="5.3" fill="#FF6F71"/>
<circle cx="1724.64" cy="758.4" r="5.3" fill="#FF6F71"/>
<circle cx="1701.6" cy="722.16" r="5.3" fill="#FF6F71"/>
<circle cx="1708.8" cy="709.2" r="5.3" fill="#FF6F71"/>
<circle cx="1747.2" cy="702" r="5.3" fill="#FF6F71"/>
<circle cx="1720.8" cy="717" r="5.3" fill="#FF6F71"/>
<circle cx="1882.8" cy="635.3" r="5.3" fill="#FF6F71"/>
<polygon points="1669.5,706.1 1682.25,701.34 1695.01,696.49 1707.76,691.51 1720.52,686.3 1733.27,680.71 1746.03,674.5 1758.78,667.35 1771.53,659.1 1784.29,649.92 1797.04,640.13 1809.8,629.97 1822.55,619.59 1835.3,609.07 1848.06,598.47 1860.81,587.81 1873.57,577.1 1886.32,566.37 1899.07,555.61 1911.83,544.83 1924.58,534.04 1937.34,523.25 1950.09,512.44 1962.85,501.62 1975.6,490.8 1975.6,600.8 1962.85,605.34 1950.09,609.88 1937.34,614.43 1924.58,618.99 1911.83,623.56 1899.07,628.14 1886.32,632.74 1873.57,637.37 1860.81,642.02 1848.06,646.71 1835.3,651.47 1822.55,656.31 1809.8,661.29 1797.04,666.49 1784.29,672.06 1771.53,678.24 1758.78,685.35 1746.03,693.55 1733.27,702.7 1720.52,712.47 1707.76,722.62 1695.01,732.99 1682.25,743.5 1669.5,754.1" fill="#FFC54E" fill-opacity="0.4"/>
<line x1="1669.5" y1="730.1" x2="1975.6" y2="545.8" stroke="#FFC54E" stroke-width="3.6"/>
<polygon points="1641.3,684.7 1647.89,685.42 1654.47,686.13 1661.06,686.82 1667.65,687.5 1674.24,688.16 1680.83,688.78 1687.41,689.37 1694,689.91 1700.59,690.37 1707.17,690.72 1713.76,690.91 1720.35,690.84 1726.94,690.35 1733.53,689.22 1740.11,687.22 1746.7,684.24 1753.29,680.45 1759.88,676.08 1766.46,671.35 1773.05,666.39 1779.64,661.29 1786.23,656.09 1792.81,650.82 1799.4,645.5 1799.4,706.5 1792.81,705.9 1786.23,705.35 1779.64,704.86 1773.05,704.47 1766.46,704.23 1759.88,704.22 1753.29,704.57 1746.7,705.49 1740.11,707.23 1733.53,709.94 1726.94,713.53 1720.35,717.76 1713.76,722.41 1707.17,727.31 1700.59,732.38 1694,737.56 1687.41,742.81 1680.83,748.12 1674.24,753.46 1667.65,758.83 1661.06,764.23 1654.47,769.64 1647.89,775.06 1641.3,780.5" fill="#47B7E0" fill-opacity="0.4"/>
<line x1="1641.3" y1="732.6" x2="1799.4" y2="676" stroke="#47B7E0" stroke-width="3.6"/>
<polygon points="1578,724.9 1590.7,721.6 1603.4,718.27 1616.1,714.92 1628.8,711.53 1641.5,708.1 1654.2,704.59 1666.9,700.98 1679.6,697.2 1692.3,693.15 1705,688.65 1717.7,683.34 1730.4,676.8 1743.1,668.78 1755.8,659.51 1768.5,649.43 1781.2,638.89 1793.9,628.07 1806.6,617.08 1819.3,605.99 1832,594.83 1844.7,583.62 1857.4,572.37 1870.1,561.1 1882.8,549.8 1882.8,650.6 1870.1,653.9 1857.4,657.23 1844.7,660.58 1832,663.97 1819.3,667.41 1806.6,670.92 1793.9,674.53 1781.2,678.31 1768.5,682.37 1755.8,686.89 1743.1,692.22 1730.4,698.8 1717.7,706.86 1705,716.15 1692.3,726.25 1679.6,736.8 1666.9,747.62 1654.2,758.61 1641.5,769.7 1628.8,780.87 1616.1,792.08 1603.4,803.33 1590.7,814.6 1578,825.9" fill="#FF6F71" fill-opacity="0.4"/>
<line x1="1578" y1="775.4" x2="1882.8" y2="600.2" stroke="#FF6F71" stroke-width="3.6"/>
<line x1="1557.95" y1="689.4" x2="1995" y2="689.4" class="dl"/>
<line x1="1739.4" y1="845.25" x2="1739.4" y2="474.45" class="dl"/>
</g>
<rect x="1565.4" y="481.45" width="24.1" height="23.95" fill="#FFC54E" fill-opacity="0.4"/>
<line x1="1567.8" y1="493.45" x2="1587.1" y2="493.45" stroke="#FFC54E" stroke-width="3.6"/>
<circle cx="1577.45" cy="493.45" r="5.3" fill="#FFC54E"/>
<text x="1594.25" y="499.3" class="lg">HDL−C: rho=0.696</text>
<rect x="1565.4" y="505.35" width="24.1" height="23.95" fill="#47B7E0" fill-opacity="0.4"/>
<line x1="1567.8" y1="517.35" x2="1587.1" y2="517.35" stroke="#47B7E0" stroke-width="3.6"/>
<circle cx="1577.45" cy="517.35" r="5.3" fill="#47B7E0"/>
<text x="1594.25" y="523.2" class="lg">LDL−C: rho=0.288</text>
<rect x="1565.4" y="529.25" width="24.1" height="23.95" fill="#FF6F71" fill-opacity="0.4"/>
<line x1="1567.8" y1="541.25" x2="1587.1" y2="541.25" stroke="#FF6F71" stroke-width="3.6"/>
<circle cx="1577.45" cy="541.25" r="5.3" fill="#FF6F71"/>
<text x="1594.25" y="547.1" class="lg">TG: rho=0.57</text>
<rect x="1559.05" y="474.45" width="435.95" height="369.75" class="fr"/>
<line x1="1560.05" y1="475.95" x2="1994" y2="475.95" class="fs"/>
<line x1="1993.5" y1="475.45" x2="1993.5" y2="843.2" class="fs"/>
<line x1="1637.5" y1="845.2" x2="1637.5" y2="847.9" class="tk"/>
<text transform="translate(1637.8,861.1) scale(1,1.03)" class="xt">−0.1</text>
<line x1="1739.5" y1="845.2" x2="1739.5" y2="847.9" class="tk"/>
<text transform="translate(1739.8,861.1) scale(1,1.03)" class="xt">0.0</text>
<line x1="1841.25" y1="845.2" x2="1841.25" y2="847.9" class="tk"/>
<text transform="translate(1841.55,861.1) scale(1,1.03)" class="xt">0.1</text>
<line x1="1943.25" y1="845.2" x2="1943.25" y2="847.9" class="tk"/>
<text transform="translate(1943.55,861.1) scale(1,1.03)" class="xt">0.2</text>
<line x1="1558.05" y1="577.2" x2="1555.35" y2="577.2" class="tk"/>
<text transform="translate(1554.35,583.1) scale(1,1.03)" class="yt">0.2</text>
<line x1="1558.05" y1="689.3" x2="1555.35" y2="689.3" class="tk"/>
<text transform="translate(1554.35,695.2) scale(1,1.03)" class="yt">0.0</text>
<line x1="1558.05" y1="801.5" x2="1555.35" y2="801.5" class="tk"/>
<text transform="translate(1554.35,807.4) scale(1,1.03)" class="yt">−0.2</text>
<text x="1776.73" y="879.65" class="at">AFR</text>
<text transform="translate(1521.7,659.73) rotate(-90)" class="at">HIS</text>
<text x="1558.15" y="464.05" class="ti">(H)</text>
</g>
<g class="panel" id="pI">
<clipPath id="clipI"><rect x="61.9" y="917.9" width="438.1" height="371.85"/></clipPath>
<g clip-path="url(#clipI)">
<circle cx="438.2" cy="952.4" r="5.3" fill="#FFC54E"/>
<circle cx="445.76" cy="948.56" r="5.3" fill="#FFC54E"/>
<circle cx="471.8" cy="953.6" r="5.3" fill="#FFC54E"/>
<circle cx="479.6" cy="947.6" r="5.3" fill="#FFC54E"/>
<circle cx="479.6" cy="954.8" r="5.3" fill="#FFC54E"/>
<circle cx="396.44" cy="982.4" r="5.3" fill="#FFC54E"/>
<circle cx="405.2" cy="984.8" r="5.3" fill="#FFC54E"/>
<circle cx="408.8" cy="981.2" r="5.3" fill="#FFC54E"/>
<circle cx="332.96" cy="985.76" r="5.3" fill="#FFC54E"/>
<circle cx="309.8" cy="999.2" r="5.3" fill="#FFC54E"/>
<circle cx="316.4" cy="998" r="5.3" fill="#FFC54E"/>
<circle cx="326" cy="1015.4" r="5.3" fill="#FFC54E"/>
<circle cx="332" cy="1030.4" r="5.3" fill="#FFC54E"/>
<circle cx="334.4" cy="1033.4" r="5.3" fill="#FFC54E"/>
<circle cx="384.8" cy="998" r="5.3" fill="#FFC54E"/>
<circle cx="392" cy="999.2" r="5.3" fill="#FFC54E"/>
<circle cx="376.4" cy="1006.4" r="5.3" fill="#FFC54E"/>
<circle cx="382.4" cy="1013.6" r="5.3" fill="#FFC54E"/>
<circle cx="390.8" cy="1006.4" r="5.3" fill="#FFC54E"/>
<circle cx="396.8" cy="1012.4" r="5.3" fill="#FFC54E"/>
<circle cx="402.8" cy="1014.8" r="5.3" fill="#FFC54E"/>
<circle cx="276.8" cy="1112.8" r="5.3" fill="#FFC54E"/>
<circle cx="390.8" cy="1055.2" r="5.3" fill="#FFC54E"/>
<circle cx="381.2" cy="1058.8" r="5.3" fill="#FFC54E"/>
<circle cx="378.8" cy="1063" r="5.3" fill="#FFC54E"/>
<circle cx="334.4" cy="1072" r="5.3" fill="#FFC54E"/>
<circle cx="303.2" cy="1064.8" r="5.3" fill="#FFC54E"/>
<circle cx="327.2" cy="1056.4" r="5.3" fill="#FFC54E"/>
<circle cx="336.8" cy="1054" r="5.3" fill="#FFC54E"/>
<circle cx="332" cy="1032.4" r="5.3" fill="#FFC54E"/>
<circle cx="308" cy="1080.4" r="5.3" fill="#FFC54E"/>
<circle cx="378.8" cy="992.84" r="5.3" fill="#47B7E0"/>
<circle cx="471.2" cy="985.4" r="5.3" fill="#47B7E0"/>
<circle cx="470" cy="987.2" r="5.3" fill="#47B7E0"/>
<circle cx="337.4" cy="1029.2" r="5.3" fill="#47B7E0"/>
<circle cx="396.8" cy="1016" r="5.3" fill="#47B7E0"/>
<circle cx="389.6" cy="1013.6" r="5.3" fill="#47B7E0"/>
<circle cx="255.2" cy="1073.2" r="5.3" fill="#47B7E0"/>
<circle cx="263.6" cy="1078.36" r="5.3" fill="#47B7E0"/>
<circle cx="222.2" cy="1111" r="5.3" fill="#47B7E0"/>
<circle cx="229.4" cy="1112.56" r="5.3" fill="#47B7E0"/>
<circle cx="258.8" cy="1109.8" r="5.3" fill="#47B7E0"/>
<circle cx="259.4" cy="1114" r="5.3" fill="#47B7E0"/>
<circle cx="269" cy="1108.6" r="5.3" fill="#47B7E0"/>
<circle cx="291.2" cy="1109.8" r="5.3" fill="#47B7E0"/>
<circle cx="295.4" cy="1108.6" r="5.3" fill="#47B7E0"/>
<circle cx="309.2" cy="1097.2" r="5.3" fill="#47B7E0"/>
<circle cx="334.76" cy="1080.76" r="5.3" fill="#47B7E0"/>
<circle cx="321.8" cy="1080.4" r="5.3" fill="#47B7E0"/>
<circle cx="371.6" cy="1062.4" r="5.3" fill="#47B7E0"/>
<circle cx="369.2" cy="1070.2" r="5.3" fill="#47B7E0"/>
<circle cx="377.6" cy="1072" r="5.3" fill="#47B7E0"/>
<circle cx="386.6" cy="1058.2" r="5.3" fill="#47B7E0"/>
<circle cx="401.6" cy="1064.44" r="5.3" fill="#47B7E0"/>
<circle cx="407.24" cy="1074.16" r="5.3" fill="#47B7E0"/>
<circle cx="383.24" cy="1110.16" r="5.3" fill="#47B7E0"/>
<circle cx="311.6" cy="1063.6" r="5.3" fill="#47B7E0"/>
<circle cx="276.8" cy="1105.6" r="5.3" fill="#47B7E0"/>
<circle cx="82.1" cy="1271.8" r="5.3" fill="#47B7E0"/>
<circle cx="90.8" cy="1272.5" r="5.3" fill="#47B7E0"/>
<circle cx="393.56" cy="940.04" r="5.3" fill="#FF6F71"/>
<circle cx="387.8" cy="984.44" r="5.3" fill="#FF6F71"/>
<circle cx="291.2" cy="1004" r="5.3" fill="#FF6F71"/>
<circle cx="330.8" cy="1002.2" r="5.3" fill="#FF6F71"/>
<circle cx="332.6" cy="1018.4" r="5.3" fill="#FF6F71"/>
<circle cx="375.8" cy="998.6" r="5.3" fill="#FF6F71"/>
<circle cx="384.2" cy="1004" r="5.3" fill="#FF6F71"/>
<circle cx="371.6" cy="1014.8" r="5.3" fill="#FF6F71"/>
<circle cx="370.4" cy="1024.4" r="5.3" fill="#FF6F71"/>
<circle cx="370.4" cy="1030.4" r="5.3" fill="#FF6F71"/>
<circle cx="384.8" cy="1019.6" r="5.3" fill="#FF6F71"/>
<circle cx="378.8" cy="1025.6" r="5.3" fill="#FF6F71"/>
<circle cx="408.2" cy="1023.2" r="5.3" fill="#FF6F71"/>
<circle cx="302" cy="1104.4" r="5.3" fill="#FF6F71"/>
<circle cx="319.76" cy="1090" r="5.3" fill="#FF6F71"/>
<circle cx="320" cy="1082.8" r="5.3" fill="#FF6F71"/>
<circle cx="294.8" cy="1088.8" r="5.3" fill="#FF6F71"/>
<circle cx="306.2" cy="1090" r="5.3" fill="#FF6F71"/>
<circle cx="371.96" cy="1054.84" r="5.3" fill="#FF6F71"/>
<circle cx="385.4" cy="1067.8" r="5.3" fill="#FF6F71"/>
<circle cx="371.36" cy="1076.2" r="5.3" fill="#FF6F71"/>
<circle cx="403.4" cy="1082.8" r="5.3" fill="#FF6F71"/>
<circle cx="408.2" cy="1078" r="5.3" fill="#FF6F71"/>
<circle cx="381.56" cy="1105.84" r="5.3" fill="#FF6F71"/>
<circle cx="280.4" cy="1105" r="5.3" fill="#FF6F71"/>
<circle cx="320" cy="1062.4" r="5.3" fill="#FF6F71"/>
<circle cx="315.2" cy="1070.8" r="5.3" fill="#FF6F71"/>
<circle cx="384.8" cy="998" r="5.3" fill="#FFC54E"/>
<circle cx="392" cy="999.2" r="5.3" fill="#FFC54E"/>
<circle cx="376.4" cy="1006.4" r="5.3" fill="#FFC54E"/>
<circle cx="382.4" cy="1013.6" r="5.3" fill="#FFC54E"/>
<circle cx="390.8" cy="1006.4" r="5.3" fill="#FFC54E"/>
<circle cx="378.8" cy="992.84" r="5.3" fill="#47B7E0"/>
<polygon points="276.8,1057.8 285.25,1054.02 293.7,1050.21 302.15,1046.36 310.6,1042.46 319.05,1038.49 327.5,1034.44 335.95,1030.28 344.4,1025.97 352.85,1021.49 361.3,1016.8 369.75,1011.88 378.2,1006.74 386.65,1001.41 395.1,995.91 403.55,990.27 412,984.53 420.45,978.72 428.9,972.84 437.35,966.92 445.8,960.96 454.25,954.98 462.7,948.97 471.15,942.94 479.6,936.9 479.6,974.1 471.15,977.82 462.7,981.55 454.25,985.3 445.8,989.07 437.35,992.87 428.9,996.71 420.45,1000.59 412,1004.53 403.55,1008.55 395.1,1012.68 386.65,1016.93 378.2,1021.36 369.75,1025.98 361.3,1030.82 352.85,1035.89 344.4,1041.16 335.95,1046.61 327.5,1052.21 319.05,1057.92 310.6,1063.71 302.15,1069.57 293.7,1075.48 285.25,1081.42 276.8,1087.4" fill="#FFC54E" fill-opacity="0.4"/>
<line x1="276.8" y1="1072.6" x2="479.6" y2="955.5" stroke="#FFC54E" stroke-width="3.6"/>
<polygon points="82.1,1196.8 98.39,1188.43 114.67,1180.06 130.96,1171.68 147.25,1163.28 163.54,1154.88 179.82,1146.45 196.11,1138 212.4,1129.52 228.69,1120.99 244.97,1112.39 261.26,1103.7 277.55,1094.87 293.84,1085.82 310.12,1076.44 326.41,1066.61 342.7,1056.25 358.99,1045.41 375.27,1034.2 391.56,1022.74 407.85,1011.11 424.14,999.37 440.42,987.56 456.71,975.7 473,963.8 473,999.2 456.71,1007.66 440.42,1016.16 424.14,1024.7 407.85,1033.33 391.56,1042.06 375.27,1050.95 358.99,1060.1 342.7,1069.62 326.41,1079.62 310.12,1090.15 293.84,1101.12 277.55,1112.43 261.26,1123.95 244.97,1135.62 228.69,1147.39 212.4,1159.22 196.11,1171.09 179.82,1183 163.54,1194.93 147.25,1206.88 130.96,1218.85 114.67,1230.82 98.39,1242.81 82.1,1254.8" fill="#47B7E0" fill-opacity="0.4"/>
<line x1="82.1" y1="1225.8" x2="473" y2="981.5" stroke="#47B7E0" stroke-width="3.6"/>
<polygon points="278,1070.9 283.41,1069.33 288.82,1067.75 294.23,1066.15 299.63,1064.52 305.04,1062.86 310.45,1061.16 315.86,1059.41 321.27,1057.57 326.68,1055.61 332.08,1053.48 337.49,1051.13 342.9,1048.49 348.31,1045.51 353.72,1042.21 359.12,1038.65 364.53,1034.88 369.94,1030.97 375.35,1026.96 380.76,1022.87 386.17,1018.74 391.57,1014.56 396.98,1010.36 402.39,1006.14 407.8,1001.9 407.8,1037.3 402.39,1038.88 396.98,1040.47 391.57,1042.09 386.17,1043.73 380.76,1045.41 375.35,1047.14 369.94,1048.95 364.53,1050.85 359.12,1052.9 353.72,1055.15 348.31,1057.67 342.9,1060.51 337.49,1063.69 332.08,1067.15 326.68,1070.84 321.27,1074.7 315.86,1078.68 310.45,1082.74 305.04,1086.85 299.63,1091.01 294.23,1095.2 288.82,1099.42 283.41,1103.65 278,1107.9" fill="#FF6F71" fill-opacity="0.4"/>
<line x1="278" y1="1089.4" x2="407.8" y2="1019.6" stroke="#FF6F71" stroke-width="3.6"/>
<line x1="62" y1="1042.7" x2="499" y2="1042.7" class="dl"/>
<line x1="353.6" y1="1289.7" x2="353.6" y2="918.9" class="dl"/>
</g>
<rect x="69.3" y="925.9" width="24.1" height="23.95" fill="#FFC54E" fill-opacity="0.4"/>
<line x1="71.7" y1="937.9" x2="91" y2="937.9" stroke="#FFC54E" stroke-width="3.6"/>
<circle cx="81.35" cy="937.9" r="5.3" fill="#FFC54E"/>
<text x="98.15" y="943.75" class="lg">HDL−C: rho=0.725</text>
<rect x="69.3" y="949.8" width="24.1" height="23.95" fill="#47B7E0" fill-opacity="0.4"/>
<line x1="71.7" y1="961.8" x2="91" y2="961.8" stroke="#47B7E0" stroke-width="3.6"/>
<circle cx="81.35" cy="961.8" r="5.3" fill="#47B7E0"/>
<text x="98.15" y="967.65" class="lg">LDL−C: rho=0.859</text>
<rect x="69.3" y="973.7" width="24.1" height="23.95" fill="#FF6F71" fill-opacity="0.4"/>
<line x1="71.7" y1="985.7" x2="91" y2="985.7" stroke="#FF6F71" stroke-width="3.6"/>
<circle cx="81.35" cy="985.7" r="5.3" fill="#FF6F71"/>
<text x="98.15" y="991.55" class="lg">TG: rho=0.544</text>
<rect x="63.1" y="918.9" width="435.9" height="369.75" class="fr"/>
<line x1="64.1" y1="920.4" x2="498" y2="920.4" class="fs"/>
<line x1="497.5" y1="919.9" x2="497.5" y2="1287.65" class="fs"/>
<line x1="136.25" y1="1289.65" x2="136.25" y2="1292.35" class="tk"/>
<text transform="translate(136.55,1305.55) scale(1,1.03)" class="xt">−0.4</text>
<line x1="245" y1="1289.65" x2="245" y2="1292.35" class="tk"/>
<text transform="translate(245.3,1305.55) scale(1,1.03)" class="xt">−0.2</text>
<line x1="353.5" y1="1289.65" x2="353.5" y2="1292.35" class="tk"/>
<text transform="translate(353.8,1305.55) scale(1,1.03)" class="xt">0.0</text>
<line x1="462.25" y1="1289.65" x2="462.25" y2="1292.35" class="tk"/>
<text transform="translate(462.55,1305.55) scale(1,1.03)" class="xt">0.2</text>
<line x1="62.1" y1="954.8" x2="59.4" y2="954.8" class="tk"/>
<text transform="translate(58.4,960.7) scale(1,1.03)" class="yt">0.25</text>
<line x1="62.1" y1="1042.9" x2="59.4" y2="1042.9" class="tk"/>
<text transform="translate(58.4,1048.8) scale(1,1.03)" class="yt">0.00</text>
<line x1="62.1" y1="1131" x2="59.4" y2="1131" class="tk"/>
<text transform="translate(58.4,1136.9) scale(1,1.03)" class="yt">−0.25</text>
<line x1="62.1" y1="1219.1" x2="59.4" y2="1219.1" class="tk"/>
<text transform="translate(58.4,1225) scale(1,1.03)" class="yt">−0.50</text>
<text x="280.75" y="1324.1" class="at">AFR</text>
<text transform="translate(18.4,1104.18) rotate(-90)" class="at">EAS</text>
<text x="62.2" y="908.5" class="ti">(I)</text>
</g>
<g class="panel" id="pJ">
<clipPath id="clipJ"><rect x="557.85" y="917.9" width="438.15" height="371.85"/></clipPath>
<g clip-path="url(#clipJ)">
<circle cx="669.56" cy="1045.04" r="5.3" fill="#FFC54E"/>
<circle cx="855.8" cy="1017.8" r="5.3" fill="#FFC54E"/>
<circle cx="768.8" cy="1062.44" r="5.3" fill="#FFC54E"/>
<circle cx="778.04" cy="1062.44" r="5.3" fill="#FFC54E"/>
<circle cx="744.8" cy="1070.6" r="5.3" fill="#FFC54E"/>
<circle cx="752" cy="1070.6" r="5.3" fill="#FFC54E"/>
<circle cx="737.6" cy="1083.2" r="5.3" fill="#FFC54E"/>
<circle cx="720.8" cy="1094" r="5.3" fill="#FFC54E"/>
<circle cx="740.6" cy="1142.24" r="5.3" fill="#FFC54E"/>
<circle cx="745.4" cy="1154.6" r="5.3" fill="#FFC54E"/>
<circle cx="701" cy="1141.4" r="5.3" fill="#FFC54E"/>
<circle cx="717.8" cy="1133" r="5.3" fill="#FFC54E"/>
<circle cx="785" cy="1091.6" r="5.3" fill="#FFC54E"/>
<circle cx="728" cy="1105.4" r="5.3" fill="#FFC54E"/>
<circle cx="752" cy="1118" r="5.3" fill="#FFC54E"/>
<circle cx="758.6" cy="1112.6" r="5.3" fill="#FFC54E"/>
<circle cx="719.96" cy="1170.04" r="5.3" fill="#FFC54E"/>
<circle cx="768.69" cy="1172.71" r="5.3" fill="#FFC54E"/>
<circle cx="778.04" cy="1172.71" r="5.3" fill="#FFC54E"/>
<circle cx="975.63" cy="976.79" r="5.3" fill="#FFC54E"/>
<circle cx="771.8" cy="1043.84" r="5.3" fill="#47B7E0"/>
<circle cx="742.4" cy="1047.8" r="5.3" fill="#47B7E0"/>
<circle cx="756.8" cy="1071.2" r="5.3" fill="#47B7E0"/>
<circle cx="703.64" cy="1101.8" r="5.3" fill="#47B7E0"/>
<circle cx="744.2" cy="1092.8" r="5.3" fill="#47B7E0"/>
<circle cx="762.2" cy="1091.6" r="5.3" fill="#47B7E0"/>
<circle cx="729.2" cy="1094" r="5.3" fill="#47B7E0"/>
<circle cx="724.4" cy="1094.6" r="5.3" fill="#47B7E0"/>
<circle cx="747.2" cy="1118.6" r="5.3" fill="#47B7E0"/>
<circle cx="735.2" cy="1116.8" r="5.3" fill="#47B7E0"/>
<circle cx="641.36" cy="1148" r="5.3" fill="#47B7E0"/>
<circle cx="682.76" cy="1147.4" r="5.3" fill="#47B7E0"/>
<circle cx="750.2" cy="1160" r="5.3" fill="#47B7E0"/>
<circle cx="755" cy="1159.4" r="5.3" fill="#47B7E0"/>
<circle cx="722" cy="1101.2" r="5.3" fill="#47B7E0"/>
<circle cx="752" cy="1097.6" r="5.3" fill="#47B7E0"/>
<circle cx="799.4" cy="1195.08" r="5.3" fill="#47B7E0"/>
<circle cx="640.04" cy="1057.16" r="5.3" fill="#FF6F71"/>
<circle cx="699.56" cy="1072.64" r="5.3" fill="#FF6F71"/>
<circle cx="801.2" cy="1037.84" r="5.3" fill="#FF6F71"/>
<circle cx="749.6" cy="1048.4" r="5.3" fill="#FF6F71"/>
<circle cx="784.4" cy="1074.8" r="5.3" fill="#FF6F71"/>
<circle cx="744.2" cy="1080.8" r="5.3" fill="#FF6F71"/>
<circle cx="750.8" cy="1080.8" r="5.3" fill="#FF6F71"/>
<circle cx="734.6" cy="1088.6" r="5.3" fill="#FF6F71"/>
<circle cx="724.76" cy="1141.4" r="5.3" fill="#FF6F71"/>
<circle cx="712.76" cy="1157" r="5.3" fill="#FF6F71"/>
<circle cx="701.6" cy="1119.2" r="5.3" fill="#FF6F71"/>
<circle cx="721.4" cy="1125.8" r="5.3" fill="#FF6F71"/>
<circle cx="708.8" cy="1130" r="5.3" fill="#FF6F71"/>
<circle cx="708.8" cy="1134.2" r="5.3" fill="#FF6F71"/>
<circle cx="740" cy="1100" r="5.3" fill="#FF6F71"/>
<circle cx="750.2" cy="1092.8" r="5.3" fill="#FF6F71"/>
<circle cx="713.6" cy="1107.2" r="5.3" fill="#FF6F71"/>
<circle cx="577.77" cy="1193.74" r="5.3" fill="#FF6F71"/>
<circle cx="743.66" cy="1272.51" r="5.3" fill="#FF6F71"/>
<circle cx="750.33" cy="1272.51" r="5.3" fill="#FF6F71"/>
<circle cx="882.84" cy="1058.89" r="5.3" fill="#FF6F71"/>
<polygon points="669.7,1116.1 682.45,1113.34 695.19,1110.46 707.94,1107.41 720.68,1104.08 733.43,1100.26 746.18,1095.64 758.92,1089.87 771.67,1082.88 784.41,1074.94 797.16,1066.39 809.9,1057.49 822.65,1048.37 835.4,1039.13 848.14,1029.79 860.89,1020.4 873.63,1010.96 886.38,1001.5 899.12,992.01 911.87,982.5 924.62,972.98 937.36,963.45 950.11,953.9 962.85,944.36 975.6,934.8 975.6,1060.2 962.85,1062.69 950.11,1065.2 937.36,1067.7 924.62,1070.22 911.87,1072.75 899.12,1075.29 886.38,1077.85 873.63,1080.44 860.89,1083.05 848.14,1085.71 835.4,1088.42 822.65,1091.23 809.9,1094.16 797.16,1097.31 784.41,1100.81 771.67,1104.92 758.92,1109.98 746.18,1116.26 733.43,1123.69 720.68,1131.92 707.94,1140.64 695.19,1149.64 682.45,1158.81 669.7,1168.1" fill="#FFC54E" fill-opacity="0.4"/>
<line x1="669.7" y1="1142.1" x2="975.6" y2="997.5" stroke="#FFC54E" stroke-width="3.6"/>
<polygon points="641.3,1076.4 647.89,1078.45 654.47,1080.49 661.06,1082.5 667.65,1084.49 674.24,1086.44 680.82,1088.35 687.41,1090.21 694,1091.99 700.59,1093.67 707.17,1095.21 713.76,1096.54 720.35,1097.58 726.94,1098.21 733.52,1098.29 740.11,1097.71 746.7,1096.44 753.29,1094.56 759.88,1092.2 766.46,1089.51 773.05,1086.58 779.64,1083.48 786.23,1080.27 792.81,1076.96 799.4,1073.6 799.4,1132.6 792.81,1130.71 786.23,1128.88 779.64,1127.14 773.05,1125.52 766.46,1124.06 759.88,1122.85 753.29,1121.97 746.7,1121.56 740.11,1121.76 733.52,1122.66 726.94,1124.21 720.35,1126.32 713.76,1128.83 707.17,1131.64 700.59,1134.65 694,1137.81 687.41,1141.07 680.82,1144.4 674.24,1147.78 667.65,1151.21 661.06,1154.68 654.47,1158.16 647.89,1161.67 641.3,1165.2" fill="#47B7E0" fill-opacity="0.4"/>
<line x1="641.3" y1="1120.8" x2="799.4" y2="1103.1" stroke="#47B7E0" stroke-width="3.6"/>
<polygon points="577.8,1094 590.51,1095.28 603.22,1096.53 615.92,1097.72 628.63,1098.86 641.34,1099.9 654.05,1100.83 666.76,1101.58 679.47,1102.07 692.17,1102.17 704.88,1101.64 717.59,1100.14 730.3,1097.27 743.01,1092.76 755.72,1086.74 768.42,1079.59 781.13,1071.69 793.84,1063.32 806.55,1054.64 819.26,1045.76 831.97,1036.74 844.67,1027.62 857.38,1018.43 870.09,1009.19 882.8,999.9 882.8,1134.5 870.09,1133.23 857.38,1132 844.67,1130.83 831.97,1129.73 819.26,1128.72 806.55,1127.86 793.84,1127.2 781.13,1126.84 768.42,1126.96 755.72,1127.83 743.01,1129.82 730.3,1133.33 717.59,1138.47 704.88,1144.99 692.17,1152.48 679.47,1160.59 666.76,1169.1 654.05,1177.87 641.34,1186.81 628.63,1195.88 615.92,1205.03 603.22,1214.24 590.51,1223.5 577.8,1232.8" fill="#FF6F71" fill-opacity="0.4"/>
<line x1="577.8" y1="1163.4" x2="882.8" y2="1067.2" stroke="#FF6F71" stroke-width="3.6"/>
<line x1="557.95" y1="1106.2" x2="995" y2="1106.2" class="dl"/>
<line x1="739.4" y1="1289.7" x2="739.4" y2="918.9" class="dl"/>
</g>
<rect x="565.4" y="925.9" width="24.1" height="23.95" fill="#FFC54E" fill-opacity="0.4"/>
<line x1="567.8" y1="937.9" x2="587.1" y2="937.9" stroke="#FFC54E" stroke-width="3.6"/>
<circle cx="577.45" cy="937.9" r="5.3" fill="#FFC54E"/>
<text x="594.25" y="943.75" class="lg">HDL−C: rho=0.57</text>
<rect x="565.4" y="949.8" width="24.1" height="23.95" fill="#47B7E0" fill-opacity="0.4"/>
<line x1="567.8" y1="961.8" x2="587.1" y2="961.8" stroke="#47B7E0" stroke-width="3.6"/>
<circle cx="577.45" cy="961.8" r="5.3" fill="#47B7E0"/>
<text x="594.25" y="967.65" class="lg">LDL−C: rho=0.104</text>
<rect x="565.4" y="973.7" width="24.1" height="23.95" fill="#FF6F71" fill-opacity="0.4"/>
<line x1="567.8" y1="985.7" x2="587.1" y2="985.7" stroke="#FF6F71" stroke-width="3.6"/>
<circle cx="577.45" cy="985.7" r="5.3" fill="#FF6F71"/>
<text x="594.25" y="991.55" class="lg">TG: rho=0.286</text>
<rect x="559.05" y="918.9" width="435.95" height="369.75" class="fr"/>
<line x1="560.05" y1="920.4" x2="994" y2="920.4" class="fs"/>
<line x1="993.5" y1="919.9" x2="993.5" y2="1287.65" class="fs"/>
<line x1="637.5" y1="1289.65" x2="637.5" y2="1292.35" class="tk"/>
<text transform="translate(637.8,1305.55) scale(1,1.03)" class="xt">−0.1</text>
<line x1="739.5" y1="1289.65" x2="739.5" y2="1292.35" class="tk"/>
<text transform="translate(739.8,1305.55) scale(1,1.03)" class="xt">0.0</text>
<line x1="841.5" y1="1289.65" x2="841.5" y2="1292.35" class="tk"/>
<text transform="translate(841.8,1305.55) scale(1,1.03)" class="xt">0.1</text>
<line x1="943.5" y1="1289.65" x2="943.5" y2="1292.35" class="tk"/>
<text transform="translate(943.8,1305.55) scale(1,1.03)" class="xt">0.2</text>
<line x1="558.05" y1="1010.2" x2="555.35" y2="1010.2" class="tk"/>
<text transform="translate(554.35,1016.1) scale(1,1.03)" class="yt">0.2</text>
<line x1="558.05" y1="1106.3" x2="555.35" y2="1106.3" class="tk"/>
<text transform="translate(554.35,1112.2) scale(1,1.03)" class="yt">0.0</text>
<line x1="558.05" y1="1202.4" x2="555.35" y2="1202.4" class="tk"/>
<text transform="translate(554.35,1208.3) scale(1,1.03)" class="yt">−0.2</text>
<text x="776.73" y="1324.1" class="at">AFR</text>
<text transform="translate(521.7,1104.18) rotate(-90)" class="at">EAS</text>
<text x="558.15" y="908.5" class="ti">(J)</text>
</g>
<g class="panel" id="pK">
<clipPath id="clipK"><rect x="1061.9" y="917.9" width="438.1" height="371.85"/></clipPath>
<g clip-path="url(#clipK)">
<circle cx="1450.8" cy="943.4" r="5.3" fill="#FFC54E"/>
<circle cx="1458.6" cy="942.8" r="5.3" fill="#FFC54E"/>
<circle cx="1452" cy="949.4" r="5.3" fill="#FFC54E"/>
<circle cx="1458.6" cy="949.4" r="5.3" fill="#FFC54E"/>
<circle cx="1414.8" cy="977.84" r="5.3" fill="#FFC54E"/>
<circle cx="1434.6" cy="980.6" r="5.3" fill="#FFC54E"/>
<circle cx="1374.6" cy="994.4" r="5.3" fill="#FFC54E"/>
<circle cx="1384.8" cy="995" r="5.3" fill="#FFC54E"/>
<circle cx="1365.6" cy="1010" r="5.3" fill="#FFC54E"/>
<circle cx="1362" cy="1027.4" r="5.3" fill="#FFC54E"/>
<circle cx="1352.4" cy="1022" r="5.3" fill="#FFC54E"/>
<circle cx="1193.16" cy="1110.4" r="5.3" fill="#FFC54E"/>
<circle cx="1217.76" cy="1086.4" r="5.3" fill="#FFC54E"/>
<circle cx="1272.6" cy="1099.6" r="5.3" fill="#FFC54E"/>
<circle cx="1277.4" cy="1099.6" r="5.3" fill="#FFC54E"/>
<circle cx="1299.6" cy="1076.8" r="5.3" fill="#FFC54E"/>
<circle cx="1305" cy="1077.4" r="5.3" fill="#FFC54E"/>
<circle cx="1273.2" cy="1057" r="5.3" fill="#FFC54E"/>
<circle cx="1352.4" cy="1052.2" r="5.3" fill="#FFC54E"/>
<circle cx="1355.04" cy="1061.44" r="5.3" fill="#FFC54E"/>
<circle cx="1381.8" cy="1066" r="5.3" fill="#FFC54E"/>
<circle cx="1372.8" cy="1067.2" r="5.3" fill="#FFC54E"/>
<circle cx="1264.8" cy="1075.6" r="5.3" fill="#FFC54E"/>
<circle cx="1285.2" cy="1078" r="5.3" fill="#FFC54E"/>
<circle cx="1242" cy="1086.4" r="5.3" fill="#FFC54E"/>
<circle cx="1290" cy="1063.6" r="5.3" fill="#FFC54E"/>
<circle cx="1392.6" cy="988.76" r="5.3" fill="#47B7E0"/>
<circle cx="1398" cy="983" r="5.3" fill="#47B7E0"/>
<circle cx="1403.4" cy="981.2" r="5.3" fill="#47B7E0"/>
<circle cx="1388.4" cy="1012.4" r="5.3" fill="#47B7E0"/>
<circle cx="1294.2" cy="1024.16" r="5.3" fill="#47B7E0"/>
<circle cx="1363.2" cy="1026.2" r="5.3" fill="#47B7E0"/>
<circle cx="1375.2" cy="1016" r="5.3" fill="#47B7E0"/>
<circle cx="1245" cy="1070.2" r="5.3" fill="#47B7E0"/>
<circle cx="1245.6" cy="1108" r="5.3" fill="#47B7E0"/>
<circle cx="1299.6" cy="1072" r="5.3" fill="#47B7E0"/>
<circle cx="1364.4" cy="1067.2" r="5.3" fill="#47B7E0"/>
<circle cx="1369.2" cy="1067.8" r="5.3" fill="#47B7E0"/>
<circle cx="1218" cy="1108" r="5.3" fill="#47B7E0"/>
<circle cx="1226.4" cy="1108.6" r="5.3" fill="#47B7E0"/>
<circle cx="1290" cy="1055.2" r="5.3" fill="#47B7E0"/>
<circle cx="1285.2" cy="1062.4" r="5.3" fill="#47B7E0"/>
<circle cx="1299.6" cy="1061.2" r="5.3" fill="#47B7E0"/>
<circle cx="1081.8" cy="1272.4" r="5.3" fill="#47B7E0"/>
<circle cx="1084.8" cy="1272.6" r="5.3" fill="#47B7E0"/>
<circle cx="1453.2" cy="935.36" r="5.3" fill="#FF6F71"/>
<circle cx="1479.6" cy="963.2" r="5.3" fill="#FF6F71"/>
<circle cx="1474.56" cy="980.6" r="5.3" fill="#FF6F71"/>
<circle cx="1380" cy="995.6" r="5.3" fill="#FF6F71"/>
<circle cx="1280.4" cy="1015.4" r="5.3" fill="#FF6F71"/>
<circle cx="1285.2" cy="1014.2" r="5.3" fill="#FF6F71"/>
<circle cx="1302" cy="1025" r="5.3" fill="#FF6F71"/>
<circle cx="1384.8" cy="1019" r="5.3" fill="#FF6F71"/>
<circle cx="1396.8" cy="1002.8" r="5.3" fill="#FF6F71"/>
<circle cx="1203" cy="1102" r="5.3" fill="#FF6F71"/>
<circle cx="1225.8" cy="1068.4" r="5.3" fill="#FF6F71"/>
<circle cx="1231.2" cy="1072" r="5.3" fill="#FF6F71"/>
<circle cx="1257.6" cy="1064.8" r="5.3" fill="#FF6F71"/>
<circle cx="1263" cy="1057.6" r="5.3" fill="#FF6F71"/>
<circle cx="1244.4" cy="1085.8" r="5.3" fill="#FF6F71"/>
<circle cx="1254" cy="1084.6" r="5.3" fill="#FF6F71"/>
<circle cx="1375.8" cy="1073.8" r="5.3" fill="#FF6F71"/>
<circle cx="1394.4" cy="1074.4" r="5.3" fill="#FF6F71"/>
<circle cx="1234.8" cy="1101.4" r="5.3" fill="#FF6F71"/>
<circle cx="1282.8" cy="1058.8" r="5.3" fill="#FF6F71"/>
<circle cx="1275.6" cy="1084" r="5.3" fill="#FF6F71"/>
<circle cx="1300.8" cy="1051.6" r="5.3" fill="#FF6F71"/>
<polygon points="1193,1113.1 1204.09,1106.79 1215.18,1100.47 1226.28,1094.15 1237.37,1087.83 1248.46,1081.5 1259.55,1075.17 1270.64,1068.83 1281.73,1062.48 1292.83,1056.12 1303.92,1049.74 1315.01,1043.34 1326.1,1036.91 1337.19,1030.44 1348.28,1023.91 1359.38,1017.28 1370.47,1010.53 1381.56,1003.6 1392.65,996.49 1403.74,989.19 1414.83,981.75 1425.92,974.2 1437.02,966.58 1448.11,958.91 1459.2,951.2 1459.2,963.2 1448.11,969.61 1437.02,976.05 1425.92,982.55 1414.83,989.12 1403.74,995.79 1392.65,1002.61 1381.56,1009.61 1370.47,1016.81 1359.38,1024.17 1348.28,1031.66 1337.19,1039.24 1326.1,1046.89 1315.01,1054.57 1303.92,1062.29 1292.83,1070.03 1281.73,1077.79 1270.64,1085.56 1259.55,1093.33 1248.46,1101.12 1237.37,1108.91 1226.28,1116.7 1215.18,1124.5 1204.09,1132.3 1193,1140.1" fill="#FFC54E" fill-opacity="0.4"/>
<line x1="1193" y1="1126.6" x2="1459.2" y2="957.2" stroke="#FFC54E" stroke-width="3.6"/>
<polygon points="1082.1,1192.3 1095.46,1184.32 1108.82,1176.34 1122.19,1168.35 1135.55,1160.35 1148.91,1152.34 1162.27,1144.31 1175.64,1136.28 1189,1128.22 1202.36,1120.14 1215.72,1112.03 1229.09,1103.89 1242.45,1095.69 1255.81,1087.44 1269.17,1079.1 1282.54,1070.65 1295.9,1062.05 1309.26,1053.28 1322.62,1044.3 1335.99,1035.07 1349.35,1025.62 1362.71,1015.95 1376.08,1006.09 1389.44,996.1 1402.8,986 1402.8,1006 1389.44,1014.34 1376.08,1022.79 1362.71,1031.38 1349.35,1040.15 1335.99,1049.13 1322.62,1058.35 1309.26,1067.81 1295.9,1077.48 1282.54,1087.33 1269.17,1097.32 1255.81,1107.42 1242.45,1117.61 1229.09,1127.85 1215.72,1138.15 1202.36,1148.48 1189,1158.85 1175.64,1169.23 1162.27,1179.64 1148.91,1190.06 1135.55,1200.49 1122.19,1210.93 1108.82,1221.38 1095.46,1231.84 1082.1,1242.3" fill="#47B7E0" fill-opacity="0.4"/>
<line x1="1082.1" y1="1217.3" x2="1402.8" y2="996" stroke="#47B7E0" stroke-width="3.6"/>
<polygon points="1201.2,1089 1212.8,1084.07 1224.4,1079.13 1236,1074.16 1247.6,1069.17 1259.2,1064.13 1270.8,1059.03 1282.4,1053.83 1294,1048.49 1305.6,1042.95 1317.2,1037.15 1328.8,1031.09 1340.4,1024.81 1352,1018.37 1363.6,1011.83 1375.2,1005.22 1386.8,998.56 1398.4,991.86 1410,985.14 1421.6,978.41 1433.2,971.66 1444.8,964.91 1456.4,958.14 1468,951.37 1479.6,944.6 1479.6,973.4 1468,978.29 1456.4,983.19 1444.8,988.09 1433.2,993 1421.6,997.92 1410,1002.86 1398.4,1007.8 1386.8,1012.78 1375.2,1017.78 1363.6,1022.84 1352,1027.96 1340.4,1033.19 1328.8,1038.58 1317.2,1044.18 1305.6,1050.05 1294,1056.18 1282.4,1062.5 1270.8,1068.97 1259.2,1075.54 1247.6,1082.17 1236,1088.84 1224.4,1095.54 1212.8,1102.26 1201.2,1109" fill="#FF6F71" fill-opacity="0.4"/>
<line x1="1201.2" y1="1099" x2="1479.6" y2="959" stroke="#FF6F71" stroke-width="3.6"/>
<line x1="1062" y1="1039.6" x2="1499" y2="1039.6" class="dl"/>
<line x1="1327.2" y1="1289.7" x2="1327.2" y2="918.9" class="dl"/>
</g>
<rect x="1069.3" y="925.9" width="24.1" height="23.95" fill="#FFC54E" fill-opacity="0.4"/>
<line x1="1071.7" y1="937.9" x2="1091" y2="937.9" stroke="#FFC54E" stroke-width="3.6"/>
<circle cx="1081.35" cy="937.9" r="5.3" fill="#FFC54E"/>
<text x="1098.15" y="943.75" class="lg">HDL−C: rho=0.927</text>
<rect x="1069.3" y="949.8" width="24.1" height="23.95" fill="#47B7E0" fill-opacity="0.4"/>
<line x1="1071.7" y1="961.8" x2="1091" y2="961.8" stroke="#47B7E0" stroke-width="3.6"/>
<circle cx="1081.35" cy="961.8" r="5.3" fill="#47B7E0"/>
<text x="1098.15" y="967.65" class="lg">LDL−C: rho=0.906</text>
<rect x="1069.3" y="973.7" width="24.1" height="23.95" fill="#FF6F71" fill-opacity="0.4"/>
<line x1="1071.7" y1="985.7" x2="1091" y2="985.7" stroke="#FF6F71" stroke-width="3.6"/>
<circle cx="1081.35" cy="985.7" r="5.3" fill="#FF6F71"/>
<text x="1098.15" y="991.55" class="lg">TG: rho=0.849</text>
<rect x="1063.1" y="918.9" width="435.9" height="369.75" class="fr"/>
<line x1="1064.1" y1="920.4" x2="1498" y2="920.4" class="fs"/>
<line x1="1497.5" y1="919.9" x2="1497.5" y2="1287.65" class="fs"/>
<line x1="1185.75" y1="1289.65" x2="1185.75" y2="1292.35" class="tk"/>
<text transform="translate(1186.05,1305.55) scale(1,1.03)" class="xt">−0.25</text>
<line x1="1327" y1="1289.65" x2="1327" y2="1292.35" class="tk"/>
<text transform="translate(1327.3,1305.55) scale(1,1.03)" class="xt">0.00</text>
<line x1="1468.5" y1="1289.65" x2="1468.5" y2="1292.35" class="tk"/>
<text transform="translate(1468.8,1305.55) scale(1,1.03)" class="xt">0.25</text>
<line x1="1062.1" y1="950.4" x2="1059.4" y2="950.4" class="tk"/>
<text transform="translate(1058.4,956.3) scale(1,1.03)" class="yt">0.25</text>
<line x1="1062.1" y1="1039.8" x2="1059.4" y2="1039.8" class="tk"/>
<text transform="translate(1058.4,1045.7) scale(1,1.03)" class="yt">0.00</text>
<line x1="1062.1" y1="1129" x2="1059.4" y2="1129" class="tk"/>
<text transform="translate(1058.4,1134.9) scale(1,1.03)" class="yt">−0.25</text>
<line x1="1062.1" y1="1218.4" x2="1059.4" y2="1218.4" class="tk"/>
<text transform="translate(1058.4,1224.3) scale(1,1.03)" class="yt">−0.50</text>
<text x="1280.75" y="1324.1" class="at">HIS</text>
<text transform="translate(1018.4,1104.18) rotate(-90)" class="at">EAS</text>
<text x="1062.2" y="908.5" class="ti">(K)</text>
</g>
<g class="panel" id="pL">
<clipPath id="clipL"><rect x="1557.85" y="917.9" width="438.15" height="371.85"/></clipPath>
<g clip-path="url(#clipL)">
<circle cx="1853.36" cy="1013.2" r="5.3" fill="#FFC54E"/>
<circle cx="1952.84" cy="982" r="5.3" fill="#FFC54E"/>
<circle cx="1839.8" cy="1033" r="5.3" fill="#FFC54E"/>
<circle cx="1849.4" cy="1033" r="5.3" fill="#FFC54E"/>
<circle cx="1834.64" cy="1042" r="5.3" fill="#FFC54E"/>
<circle cx="1822.4" cy="1066" r="5.3" fill="#FFC54E"/>
<circle cx="1773.2" cy="1079.2" r="5.3" fill="#FFC54E"/>
<circle cx="1808" cy="1086.4" r="5.3" fill="#FFC54E"/>
<circle cx="1792.4" cy="1082.8" r="5.3" fill="#FFC54E"/>
<circle cx="1824.8" cy="1057.6" r="5.3" fill="#FFC54E"/>
<circle cx="1737" cy="1042.84" r="5.3" fill="#FFC54E"/>
<circle cx="1779.24" cy="1124.2" r="5.3" fill="#FFC54E"/>
<circle cx="1737.36" cy="1138" r="5.3" fill="#FFC54E"/>
<circle cx="1622.4" cy="1155.4" r="5.3" fill="#FFC54E"/>
<circle cx="1735.8" cy="1096" r="5.3" fill="#FFC54E"/>
<circle cx="1743.6" cy="1094.8" r="5.3" fill="#FFC54E"/>
<circle cx="1746.6" cy="1114.6" r="5.3" fill="#FFC54E"/>
<circle cx="1754.4" cy="1090" r="5.3" fill="#FFC54E"/>
<circle cx="1782" cy="1094.8" r="5.3" fill="#FFC54E"/>
<circle cx="1839.79" cy="1158.36" r="5.3" fill="#FFC54E"/>
<circle cx="1849.13" cy="1158.36" r="5.3" fill="#FFC54E"/>
<circle cx="1975.63" cy="935.4" r="5.3" fill="#FFC54E"/>
<circle cx="1866.44" cy="1012" r="5.3" fill="#47B7E0"/>
<circle cx="1860.8" cy="1016.2" r="5.3" fill="#47B7E0"/>
<circle cx="1848.8" cy="1043.2" r="5.3" fill="#47B7E0"/>
<circle cx="1833.2" cy="1066" r="5.3" fill="#47B7E0"/>
<circle cx="1762.16" cy="1071.16" r="5.3" fill="#47B7E0"/>
<circle cx="1778.6" cy="1070.2" r="5.3" fill="#47B7E0"/>
<circle cx="1792.4" cy="1067.2" r="5.3" fill="#47B7E0"/>
<circle cx="1784" cy="1076.8" r="5.3" fill="#47B7E0"/>
<circle cx="1668.24" cy="1096.96" r="5.3" fill="#47B7E0"/>
<circle cx="1735.2" cy="1088.2" r="5.3" fill="#47B7E0"/>
<circle cx="1735.44" cy="1144" r="5.3" fill="#47B7E0"/>
<circle cx="1779.96" cy="1144" r="5.3" fill="#47B7E0"/>
<circle cx="1678.2" cy="1130.2" r="5.3" fill="#47B7E0"/>
<circle cx="1686.6" cy="1129.6" r="5.3" fill="#47B7E0"/>
<circle cx="1764" cy="1088.8" r="5.3" fill="#47B7E0"/>
<circle cx="1661.21" cy="1184.06" r="5.3" fill="#47B7E0"/>
<circle cx="1830.8" cy="1027" r="5.3" fill="#FF6F71"/>
<circle cx="1804.04" cy="1044.4" r="5.3" fill="#FF6F71"/>
<circle cx="1812.8" cy="1054" r="5.3" fill="#FF6F71"/>
<circle cx="1795.16" cy="1063" r="5.3" fill="#FF6F71"/>
<circle cx="1862" cy="1028.8" r="5.3" fill="#FF6F71"/>
<circle cx="1863.8" cy="1047.4" r="5.3" fill="#FF6F71"/>
<circle cx="1919" cy="1016.8" r="5.3" fill="#FF6F71"/>
<circle cx="1957.76" cy="1004.8" r="5.3" fill="#FF6F71"/>
<circle cx="1815.8" cy="1087" r="5.3" fill="#FF6F71"/>
<circle cx="1809.2" cy="1076.8" r="5.3" fill="#FF6F71"/>
<circle cx="1802" cy="1068.4" r="5.3" fill="#FF6F71"/>
<circle cx="1775.6" cy="1081.6" r="5.3" fill="#FF6F71"/>
<circle cx="1708.8" cy="1054" r="5.3" fill="#FF6F71"/>
<circle cx="1680.96" cy="1123" r="5.3" fill="#FF6F71"/>
<circle cx="1712.16" cy="1113.4" r="5.3" fill="#FF6F71"/>
<circle cx="1733.4" cy="1097.8" r="5.3" fill="#FF6F71"/>
<circle cx="1755" cy="1108" r="5.3" fill="#FF6F71"/>
<circle cx="1776" cy="1091.2" r="5.3" fill="#FF6F71"/>
<circle cx="1577.77" cy="1182.73" r="5.3" fill="#FF6F71"/>
<circle cx="1708.61" cy="1272.51" r="5.3" fill="#FF6F71"/>
<circle cx="1812.75" cy="1272.51" r="5.3" fill="#FF6F71"/>
<circle cx="1877.17" cy="1141" r="5.3" fill="#FF6F71"/>
<polygon points="1622.5,1129.9 1637.23,1125.36 1651.96,1120.8 1666.69,1116.21 1681.42,1111.58 1696.15,1106.89 1710.88,1102.13 1725.6,1097.25 1740.33,1092.19 1755.06,1086.86 1769.79,1081.09 1784.52,1074.63 1799.25,1067.26 1813.98,1058.92 1828.71,1049.78 1843.44,1040.1 1858.17,1030.08 1872.9,1019.85 1887.62,1009.47 1902.35,999.01 1917.08,988.48 1931.81,977.9 1946.54,967.29 1961.27,956.66 1976,946 1976,1026.4 1961.27,1030.93 1946.54,1035.48 1931.81,1040.05 1917.08,1044.66 1902.35,1049.31 1887.62,1054.03 1872.9,1058.84 1858.17,1063.79 1843.44,1068.95 1828.71,1074.45 1813.98,1080.5 1799.25,1087.34 1784.52,1095.15 1769.79,1103.88 1755.06,1113.29 1740.33,1123.14 1725.6,1133.27 1710.88,1143.57 1696.15,1153.99 1681.42,1164.49 1666.69,1175.04 1651.96,1185.63 1637.23,1196.26 1622.5,1206.9" fill="#FFC54E" fill-opacity="0.4"/>
<line x1="1622.5" y1="1168.4" x2="1976" y2="986.2" stroke="#FFC54E" stroke-width="3.6"/>
<polygon points="1661.4,1129.6 1669.94,1126.16 1678.48,1122.71 1687.03,1119.24 1695.57,1115.75 1704.11,1112.23 1712.65,1108.67 1721.19,1105.06 1729.73,1101.39 1738.28,1097.63 1746.82,1093.76 1755.36,1089.73 1763.9,1085.49 1772.44,1081 1780.98,1076.23 1789.53,1071.18 1798.07,1065.87 1806.61,1060.37 1815.15,1054.7 1823.69,1048.93 1832.23,1043.06 1840.78,1037.13 1849.32,1031.15 1857.86,1025.14 1866.4,1019.1 1866.4,1052.1 1857.86,1055.59 1849.32,1059.11 1840.78,1062.67 1832.23,1066.27 1823.69,1069.94 1815.15,1073.7 1806.61,1077.57 1798.07,1081.59 1789.53,1085.82 1780.98,1090.3 1772.44,1095.07 1763.9,1100.11 1755.36,1105.41 1746.82,1110.91 1738.28,1116.57 1729.73,1122.34 1721.19,1128.21 1712.65,1134.13 1704.11,1140.11 1695.57,1146.12 1687.03,1152.16 1678.48,1158.22 1669.94,1164.3 1661.4,1170.4" fill="#47B7E0" fill-opacity="0.4"/>
<line x1="1661.4" y1="1150" x2="1866.4" y2="1035.6" stroke="#47B7E0" stroke-width="3.6"/>
<polygon points="1577.8,1117.8 1593.63,1115.39 1609.47,1112.95 1625.3,1110.46 1641.13,1107.9 1656.97,1105.27 1672.8,1102.53 1688.63,1099.65 1704.47,1096.57 1720.3,1093.22 1736.13,1089.49 1751.97,1085.2 1767.8,1080.17 1783.63,1074.19 1799.47,1067.12 1815.3,1059.01 1831.13,1050.02 1846.97,1040.36 1862.8,1030.22 1878.63,1019.74 1894.47,1009.02 1910.3,998.12 1926.13,987.1 1941.97,975.99 1957.8,964.8 1957.8,1072.8 1941.97,1075.33 1926.13,1077.93 1910.3,1080.63 1894.47,1083.45 1878.63,1086.45 1862.8,1089.68 1846.97,1093.26 1831.13,1097.31 1815.3,1102.04 1799.47,1107.64 1783.63,1114.3 1767.8,1122.03 1751.97,1130.71 1736.13,1140.15 1720.3,1150.13 1704.47,1160.5 1688.63,1171.14 1672.8,1181.97 1656.97,1192.95 1641.13,1204.03 1625.3,1215.19 1609.47,1226.42 1593.63,1237.69 1577.8,1249" fill="#FF6F71" fill-opacity="0.4"/>
<line x1="1577.8" y1="1183.4" x2="1957.8" y2="1018.8" stroke="#FF6F71" stroke-width="3.6"/>
<line x1="1557.95" y1="1083.1" x2="1995" y2="1083.1" class="dl"/>
<line x1="1782.5" y1="1289.7" x2="1782.5" y2="918.9" class="dl"/>
</g>
<rect x="1565.4" y="925.9" width="24.1" height="23.95" fill="#FFC54E" fill-opacity="0.4"/>
<line x1="1567.8" y1="937.9" x2="1587.1" y2="937.9" stroke="#FFC54E" stroke-width="3.6"/>
<circle cx="1577.45" cy="937.9" r="5.3" fill="#FFC54E"/>
<text x="1594.25" y="943.75" class="lg">HDL−C: rho=0.708</text>
<rect x="1565.4" y="949.8" width="24.1" height="23.95" fill="#47B7E0" fill-opacity="0.4"/>
<line x1="1567.8" y1="961.8" x2="1587.1" y2="961.8" stroke="#47B7E0" stroke-width="3.6"/>
<circle cx="1577.45" cy="961.8" r="5.3" fill="#47B7E0"/>
<text x="1594.25" y="967.65" class="lg">LDL−C: rho=0.815</text>
<rect x="1565.4" y="973.7" width="24.1" height="23.95" fill="#FF6F71" fill-opacity="0.4"/>
<line x1="1567.8" y1="985.7" x2="1587.1" y2="985.7" stroke="#FF6F71" stroke-width="3.6"/>
<circle cx="1577.45" cy="985.7" r="5.3" fill="#FF6F71"/>
<text x="1594.25" y="991.55" class="lg">TG: rho=0.517</text>
<rect x="1559.05" y="918.9" width="435.95" height="369.75" class="fr"/>
<line x1="1560.05" y1="920.4" x2="1994" y2="920.4" class="fs"/>
<line x1="1993.5" y1="919.9" x2="1993.5" y2="1287.65" class="fs"/>
<line x1="1617" y1="1289.65" x2="1617" y2="1292.35" class="tk"/>
<text transform="translate(1617.3,1305.55) scale(1,1.03)" class="xt">−0.2</text>
<line x1="1699.5" y1="1289.65" x2="1699.5" y2="1292.35" class="tk"/>
<text transform="translate(1699.8,1305.55) scale(1,1.03)" class="xt">−0.1</text>
<line x1="1782.25" y1="1289.65" x2="1782.25" y2="1292.35" class="tk"/>
<text transform="translate(1782.55,1305.55) scale(1,1.03)" class="xt">0.0</text>
<line x1="1865" y1="1289.65" x2="1865" y2="1292.35" class="tk"/>
<text transform="translate(1865.3,1305.55) scale(1,1.03)" class="xt">0.1</text>
<line x1="1947.75" y1="1289.65" x2="1947.75" y2="1292.35" class="tk"/>
<text transform="translate(1948.05,1305.55) scale(1,1.03)" class="xt">0.2</text>
<line x1="1558.05" y1="973.4" x2="1555.35" y2="973.4" class="tk"/>
<text transform="translate(1554.35,979.3) scale(1,1.03)" class="yt">0.2</text>
<line x1="1558.05" y1="1083.3" x2="1555.35" y2="1083.3" class="tk"/>
<text transform="translate(1554.35,1089.2) scale(1,1.03)" class="yt">0.0</text>
<line x1="1558.05" y1="1192.7" x2="1555.35" y2="1192.7" class="tk"/>
<text transform="translate(1554.35,1198.6) scale(1,1.03)" class="yt">−0.2</text>
<text x="1776.73" y="1324.1" class="at">HIS</text>
<text transform="translate(1521.7,1104.18) rotate(-90)" class="at">EAS</text>
<text x="1558.15" y="908.5" class="ti">(L)</text>
</g>
</svg></body></html>
